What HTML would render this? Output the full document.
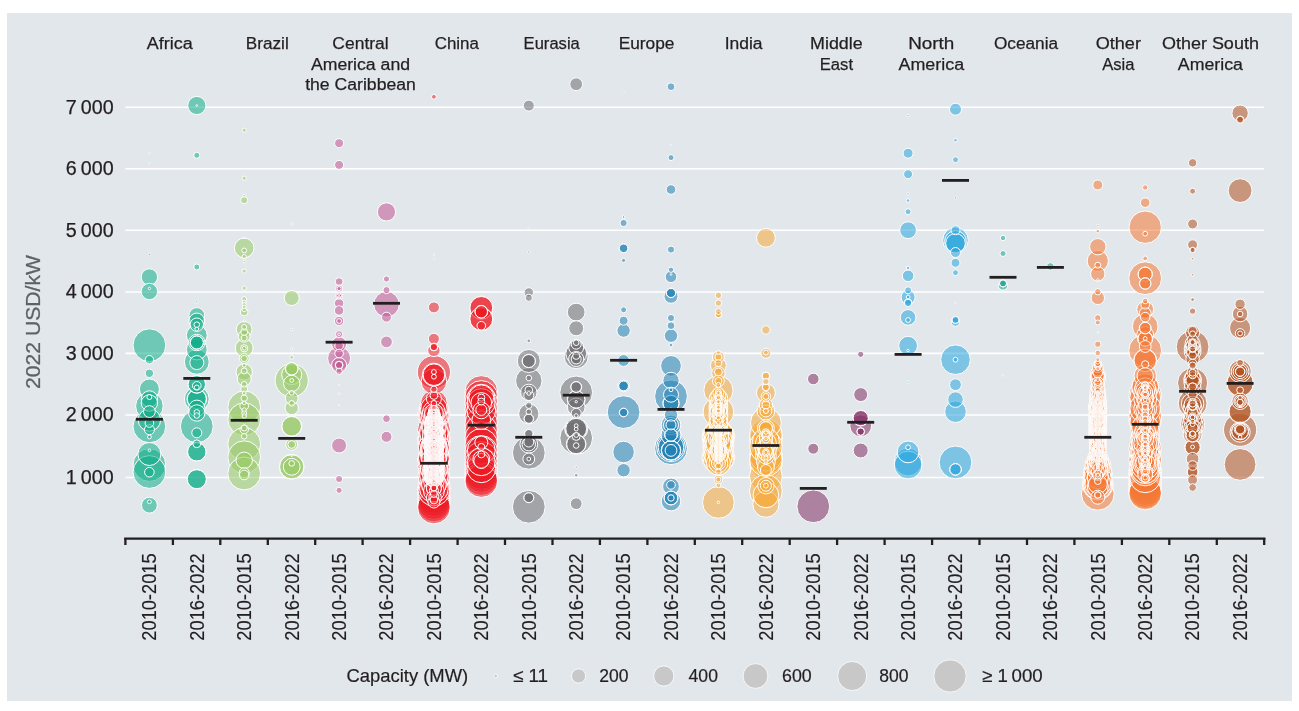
<!DOCTYPE html>
<html lang="en"><head><meta charset="utf-8"><title>Installed cost by region</title>
<style>html,body{margin:0;padding:0;background:#fff;overflow:hidden}body{width:1299px;height:711px;position:relative}</style></head>
<body>
<svg width="1299" height="711" viewBox="0 0 1299 711" style="display:block;position:absolute;left:0;top:0">
<rect x="0" y="0" width="1299" height="711" fill="#fff"/>
<rect x="7" y="13" width="1285" height="688" fill="#e2e7eb"/>
<g stroke="#fff" stroke-width="1.6">
<line x1="125.4" y1="107.2" x2="1264" y2="107.2"/>
<line x1="125.4" y1="168.8" x2="1264" y2="168.8"/>
<line x1="125.4" y1="230.3" x2="1264" y2="230.3"/>
<line x1="125.4" y1="292.0" x2="1264" y2="292.0"/>
<line x1="125.4" y1="353.4" x2="1264" y2="353.4"/>
<line x1="125.4" y1="415.0" x2="1264" y2="415.0"/>
<line x1="125.4" y1="477.5" x2="1264" y2="477.5"/>
</g>
<g fill="#10ad88" fill-opacity="0.55" stroke="#fff" stroke-width="1">
<circle cx="149.4" cy="345.2" r="16.4"/>
<circle cx="149.4" cy="426.3" r="16.4"/>
<circle cx="149.4" cy="465.0" r="16.4"/>
<circle cx="149.4" cy="472.0" r="16.4"/>
<circle cx="149.4" cy="406.0" r="13.8"/>
<circle cx="149.4" cy="454.0" r="11.5"/>
<circle cx="149.4" cy="420.0" r="11.2"/>
<circle cx="149.4" cy="389.0" r="10.0"/>
<circle cx="149.4" cy="277.0" r="8.2"/>
<circle cx="149.4" cy="291.5" r="8.2"/>
<circle cx="149.4" cy="399.0" r="8.2"/>
<circle cx="149.4" cy="403.0" r="8.2"/>
<circle cx="149.4" cy="505.2" r="7.9"/>
<circle cx="149.4" cy="411.6" r="5.9"/>
<circle cx="149.4" cy="429.7" r="5.0"/>
<circle cx="149.4" cy="472.2" r="4.8"/>
<circle cx="149.4" cy="423.0" r="4.3"/>
<circle cx="149.4" cy="359.7" r="4.2"/>
<circle cx="149.4" cy="373.3" r="4.2"/>
<circle cx="149.4" cy="397.0" r="2.5"/>
<circle cx="149.4" cy="437.0" r="1.9"/>
<circle cx="149.4" cy="501.8" r="1.9"/>
<circle cx="149.4" cy="450.3" r="1.3"/>
<circle cx="149.4" cy="254.4" r="1.2"/>
<circle cx="149.4" cy="288.5" r="1.2"/>
<circle cx="149.4" cy="153.2" r="0.8"/>
<circle cx="149.4" cy="163.1" r="0.8"/>
</g>
<g fill="#10ad88" fill-opacity="0.55" stroke="#fff" stroke-width="1">
<circle cx="196.8" cy="426.3" r="16.4"/>
<circle cx="196.8" cy="361.9" r="12.4"/>
<circle cx="196.8" cy="399.0" r="12.4"/>
<circle cx="196.8" cy="335.3" r="10.4"/>
<circle cx="196.8" cy="349.5" r="10.4"/>
<circle cx="196.8" cy="399.0" r="9.8"/>
<circle cx="196.8" cy="479.2" r="9.8"/>
<circle cx="196.8" cy="399.0" r="9.5"/>
<circle cx="196.8" cy="479.2" r="9.5"/>
<circle cx="196.8" cy="451.8" r="9.4"/>
<circle cx="196.8" cy="451.8" r="9.2"/>
<circle cx="196.8" cy="105.5" r="9.1"/>
<circle cx="196.8" cy="384.3" r="8.9"/>
<circle cx="196.8" cy="384.3" r="8.7"/>
<circle cx="196.8" cy="342.5" r="8.2"/>
<circle cx="196.8" cy="408.3" r="8.2"/>
<circle cx="196.8" cy="413.0" r="8.2"/>
<circle cx="196.8" cy="315.5" r="7.9"/>
<circle cx="196.8" cy="321.0" r="7.9"/>
<circle cx="196.8" cy="362.6" r="7.0"/>
<circle cx="196.8" cy="324.7" r="6.7"/>
<circle cx="196.8" cy="342.5" r="6.7"/>
<circle cx="196.8" cy="342.5" r="6.5"/>
<circle cx="196.8" cy="432.8" r="5.0"/>
<circle cx="196.8" cy="385.8" r="4.3"/>
<circle cx="196.8" cy="443.8" r="3.9"/>
<circle cx="196.8" cy="155.3" r="3.0"/>
<circle cx="196.8" cy="267.0" r="3.0"/>
<circle cx="196.8" cy="324.7" r="2.8"/>
<circle cx="196.8" cy="412.4" r="2.8"/>
<circle cx="196.8" cy="415.5" r="2.8"/>
<circle cx="196.8" cy="387.4" r="2.4"/>
<circle cx="196.8" cy="329.0" r="1.9"/>
<circle cx="196.8" cy="301.8" r="1.2"/>
<circle cx="196.8" cy="105.5" r="0.8"/>
</g>
<g fill="#97ca64" fill-opacity="0.55" stroke="#fff" stroke-width="1">
<circle cx="244.2" cy="407.3" r="16.4"/>
<circle cx="244.2" cy="419.3" r="16.4"/>
<circle cx="244.2" cy="444.1" r="16.4"/>
<circle cx="244.2" cy="457.2" r="16.4"/>
<circle cx="244.2" cy="473.5" r="16.4"/>
<circle cx="244.2" cy="247.9" r="9.8"/>
<circle cx="244.2" cy="348.0" r="8.9"/>
<circle cx="244.2" cy="372.0" r="8.2"/>
<circle cx="244.2" cy="460.3" r="8.2"/>
<circle cx="244.2" cy="329.4" r="7.9"/>
<circle cx="244.2" cy="378.9" r="7.0"/>
<circle cx="244.2" cy="336.3" r="5.9"/>
<circle cx="244.2" cy="358.5" r="5.0"/>
<circle cx="244.2" cy="472.7" r="5.0"/>
<circle cx="244.2" cy="475.0" r="4.8"/>
<circle cx="244.2" cy="406.0" r="4.3"/>
<circle cx="244.2" cy="429.4" r="4.3"/>
<circle cx="244.2" cy="312.0" r="3.9"/>
<circle cx="244.2" cy="200.2" r="3.6"/>
<circle cx="244.2" cy="348.3" r="3.6"/>
<circle cx="244.2" cy="332.0" r="3.5"/>
<circle cx="244.2" cy="389.0" r="3.5"/>
<circle cx="244.2" cy="358.5" r="3.2"/>
<circle cx="244.2" cy="398.2" r="3.2"/>
<circle cx="244.2" cy="338.0" r="3.0"/>
<circle cx="244.2" cy="371.0" r="3.0"/>
<circle cx="244.2" cy="428.0" r="3.0"/>
<circle cx="244.2" cy="384.3" r="2.8"/>
<circle cx="244.2" cy="436.3" r="2.8"/>
<circle cx="244.2" cy="327.0" r="2.5"/>
<circle cx="244.2" cy="413.0" r="2.5"/>
<circle cx="244.2" cy="250.4" r="2.4"/>
<circle cx="244.2" cy="299.0" r="2.4"/>
<circle cx="244.2" cy="309.5" r="2.2"/>
<circle cx="244.2" cy="410.0" r="2.2"/>
<circle cx="244.2" cy="416.0" r="2.2"/>
<circle cx="244.2" cy="130.2" r="2.1"/>
<circle cx="244.2" cy="178.2" r="2.1"/>
<circle cx="244.2" cy="256.6" r="2.1"/>
<circle cx="244.2" cy="271.1" r="2.1"/>
<circle cx="244.2" cy="288.1" r="2.1"/>
<circle cx="244.2" cy="302.0" r="1.9"/>
<circle cx="244.2" cy="304.5" r="1.9"/>
<circle cx="244.2" cy="307.0" r="1.9"/>
<circle cx="244.2" cy="348.3" r="1.9"/>
<circle cx="244.2" cy="365.3" r="1.9"/>
<circle cx="244.2" cy="393.0" r="1.9"/>
<circle cx="244.2" cy="403.0" r="1.9"/>
<circle cx="244.2" cy="195.6" r="1.3"/>
<circle cx="244.2" cy="261.5" r="1.3"/>
<circle cx="244.2" cy="321.0" r="1.2"/>
<circle cx="244.2" cy="237.7" r="0.8"/>
</g>
<g fill="#97ca64" fill-opacity="0.55" stroke="#fff" stroke-width="1">
<circle cx="291.7" cy="380.4" r="16.6"/>
<circle cx="291.7" cy="466.8" r="12.4"/>
<circle cx="291.7" cy="466.8" r="12.1"/>
<circle cx="291.7" cy="374.6" r="10.0"/>
<circle cx="291.7" cy="426.3" r="10.0"/>
<circle cx="291.7" cy="426.3" r="9.8"/>
<circle cx="291.7" cy="466.8" r="8.4"/>
<circle cx="291.7" cy="383.5" r="8.2"/>
<circle cx="291.7" cy="298.0" r="7.5"/>
<circle cx="291.7" cy="408.0" r="6.7"/>
<circle cx="291.7" cy="368.8" r="6.4"/>
<circle cx="291.7" cy="398.2" r="6.4"/>
<circle cx="291.7" cy="368.8" r="6.2"/>
<circle cx="291.7" cy="444.5" r="5.9"/>
<circle cx="291.7" cy="444.5" r="3.9"/>
<circle cx="291.7" cy="403.3" r="2.8"/>
<circle cx="291.7" cy="463.4" r="2.8"/>
<circle cx="291.7" cy="392.8" r="2.4"/>
<circle cx="291.7" cy="357.4" r="1.9"/>
<circle cx="291.7" cy="380.4" r="1.9"/>
<circle cx="291.7" cy="224.0" r="1.2"/>
<circle cx="291.7" cy="329.4" r="1.2"/>
<circle cx="291.7" cy="348.9" r="1.2"/>
<circle cx="291.7" cy="455.7" r="0.8"/>
</g>
<g fill="#c35694" fill-opacity="0.55" stroke="#fff" stroke-width="1">
<circle cx="339.1" cy="358.2" r="11.5"/>
<circle cx="339.1" cy="344.2" r="7.5"/>
<circle cx="339.1" cy="365.1" r="7.5"/>
<circle cx="339.1" cy="445.5" r="7.5"/>
<circle cx="339.1" cy="303.3" r="4.7"/>
<circle cx="339.1" cy="310.5" r="4.7"/>
<circle cx="339.1" cy="321.0" r="4.7"/>
<circle cx="339.1" cy="143.2" r="4.5"/>
<circle cx="339.1" cy="164.9" r="4.5"/>
<circle cx="339.1" cy="345.8" r="4.3"/>
<circle cx="339.1" cy="353.5" r="4.3"/>
<circle cx="339.1" cy="281.6" r="3.9"/>
<circle cx="339.1" cy="365.1" r="3.9"/>
<circle cx="339.1" cy="365.1" r="3.7"/>
<circle cx="339.1" cy="288.6" r="3.6"/>
<circle cx="339.1" cy="295.5" r="3.6"/>
<circle cx="339.1" cy="334.2" r="3.6"/>
<circle cx="339.1" cy="479.0" r="3.6"/>
<circle cx="339.1" cy="371.3" r="3.2"/>
<circle cx="339.1" cy="490.3" r="3.1"/>
<circle cx="339.1" cy="295.5" r="2.4"/>
<circle cx="339.1" cy="321.0" r="2.4"/>
<circle cx="339.1" cy="288.6" r="2.1"/>
<circle cx="339.1" cy="334.2" r="1.3"/>
<circle cx="339.1" cy="294.0" r="1.2"/>
<circle cx="339.1" cy="297.0" r="1.2"/>
<circle cx="339.1" cy="384.8" r="0.8"/>
<circle cx="339.1" cy="393.7" r="0.8"/>
<circle cx="339.1" cy="405.1" r="0.8"/>
</g>
<g fill="#c35694" fill-opacity="0.55" stroke="#fff" stroke-width="1">
<circle cx="386.5" cy="304.3" r="12.8"/>
<circle cx="386.5" cy="211.9" r="9.1"/>
<circle cx="386.5" cy="341.9" r="5.9"/>
<circle cx="386.5" cy="436.8" r="5.5"/>
<circle cx="386.5" cy="317.2" r="5.0"/>
<circle cx="386.5" cy="418.7" r="3.9"/>
<circle cx="386.5" cy="290.1" r="3.6"/>
<circle cx="386.5" cy="279.0" r="3.1"/>
</g>
<g fill="#ed1c24" fill-opacity="0.55" stroke="#fff" stroke-width="1">
<circle cx="433.9" cy="372.1" r="16.6"/>
<circle cx="433.9" cy="441.2" r="16.4"/>
<circle cx="433.9" cy="438.7" r="16.4"/>
<circle cx="433.9" cy="487.6" r="16.4"/>
<circle cx="433.9" cy="430.1" r="16.4"/>
<circle cx="433.9" cy="487.8" r="16.4"/>
<circle cx="433.9" cy="438.4" r="16.4"/>
<circle cx="433.9" cy="437.9" r="16.4"/>
<circle cx="433.9" cy="460.4" r="16.4"/>
<circle cx="433.9" cy="491.4" r="16.4"/>
<circle cx="433.9" cy="494.0" r="16.4"/>
<circle cx="433.9" cy="497.0" r="16.4"/>
<circle cx="433.9" cy="500.0" r="16.4"/>
<circle cx="433.9" cy="503.0" r="16.4"/>
<circle cx="433.9" cy="505.5" r="16.4"/>
<circle cx="433.9" cy="507.5" r="16.4"/>
<circle cx="433.9" cy="439.3" r="15.9"/>
<circle cx="433.9" cy="459.2" r="15.9"/>
<circle cx="433.9" cy="443.4" r="15.9"/>
<circle cx="433.9" cy="413.8" r="15.9"/>
<circle cx="433.9" cy="466.6" r="15.9"/>
<circle cx="433.9" cy="413.2" r="15.9"/>
<circle cx="433.9" cy="459.6" r="15.9"/>
<circle cx="433.9" cy="490.2" r="15.9"/>
<circle cx="433.9" cy="475.2" r="15.9"/>
<circle cx="433.9" cy="446.9" r="15.9"/>
<circle cx="433.9" cy="414.1" r="15.4"/>
<circle cx="433.9" cy="413.0" r="15.4"/>
<circle cx="433.9" cy="437.9" r="15.4"/>
<circle cx="433.9" cy="458.5" r="15.4"/>
<circle cx="433.9" cy="447.8" r="15.4"/>
<circle cx="433.9" cy="415.2" r="15.4"/>
<circle cx="433.9" cy="414.8" r="15.4"/>
<circle cx="433.9" cy="478.1" r="15.4"/>
<circle cx="433.9" cy="435.2" r="14.4"/>
<circle cx="433.9" cy="411.9" r="14.4"/>
<circle cx="433.9" cy="432.3" r="14.4"/>
<circle cx="433.9" cy="472.5" r="14.4"/>
<circle cx="433.9" cy="488.4" r="14.4"/>
<circle cx="433.9" cy="415.0" r="14.4"/>
<circle cx="433.9" cy="408.0" r="14.4"/>
<circle cx="433.9" cy="475.7" r="14.4"/>
<circle cx="433.9" cy="403.3" r="13.4"/>
<circle cx="433.9" cy="455.1" r="13.4"/>
<circle cx="433.9" cy="409.0" r="13.4"/>
<circle cx="433.9" cy="448.2" r="13.4"/>
<circle cx="433.9" cy="451.5" r="13.4"/>
<circle cx="433.9" cy="448.2" r="13.4"/>
<circle cx="433.9" cy="468.9" r="13.4"/>
<circle cx="433.9" cy="381.6" r="12.8"/>
<circle cx="433.9" cy="484.4" r="12.4"/>
<circle cx="433.9" cy="416.7" r="12.4"/>
<circle cx="433.9" cy="455.4" r="12.4"/>
<circle cx="433.9" cy="449.5" r="12.4"/>
<circle cx="433.9" cy="451.4" r="12.4"/>
<circle cx="433.9" cy="459.5" r="12.4"/>
<circle cx="433.9" cy="447.7" r="12.4"/>
<circle cx="433.9" cy="427.1" r="12.4"/>
<circle cx="433.9" cy="484.4" r="12.4"/>
<circle cx="433.9" cy="374.7" r="11.5"/>
<circle cx="433.9" cy="443.1" r="11.4"/>
<circle cx="433.9" cy="412.2" r="11.4"/>
<circle cx="433.9" cy="438.4" r="11.4"/>
<circle cx="433.9" cy="474.7" r="11.4"/>
<circle cx="433.9" cy="427.5" r="11.4"/>
<circle cx="433.9" cy="437.9" r="11.4"/>
<circle cx="433.9" cy="435.7" r="11.4"/>
<circle cx="433.9" cy="470.1" r="11.4"/>
<circle cx="433.9" cy="374.7" r="10.8"/>
<circle cx="433.9" cy="441.7" r="10.4"/>
<circle cx="433.9" cy="480.6" r="10.4"/>
<circle cx="433.9" cy="420.5" r="10.4"/>
<circle cx="433.9" cy="471.0" r="10.4"/>
<circle cx="433.9" cy="466.5" r="10.4"/>
<circle cx="433.9" cy="491.1" r="10.4"/>
<circle cx="433.9" cy="447.5" r="9.9"/>
<circle cx="433.9" cy="468.9" r="9.9"/>
<circle cx="433.9" cy="461.9" r="9.9"/>
<circle cx="433.9" cy="466.2" r="9.9"/>
<circle cx="433.9" cy="441.3" r="9.9"/>
<circle cx="433.9" cy="447.4" r="9.8"/>
<circle cx="433.9" cy="446.0" r="9.7"/>
<circle cx="433.9" cy="447.4" r="9.7"/>
<circle cx="433.9" cy="468.9" r="9.7"/>
<circle cx="433.9" cy="477.0" r="9.7"/>
<circle cx="433.9" cy="469.4" r="9.7"/>
<circle cx="433.9" cy="472.8" r="9.7"/>
<circle cx="433.9" cy="462.5" r="9.6"/>
<circle cx="433.9" cy="432.3" r="9.6"/>
<circle cx="433.9" cy="456.9" r="9.6"/>
<circle cx="433.9" cy="477.4" r="9.5"/>
<circle cx="433.9" cy="469.0" r="9.5"/>
<circle cx="433.9" cy="440.2" r="9.5"/>
<circle cx="433.9" cy="439.7" r="9.5"/>
<circle cx="433.9" cy="453.4" r="9.4"/>
<circle cx="433.9" cy="414.9" r="9.4"/>
<circle cx="433.9" cy="469.3" r="9.4"/>
<circle cx="433.9" cy="413.1" r="9.4"/>
<circle cx="433.9" cy="448.4" r="9.4"/>
<circle cx="433.9" cy="471.7" r="9.4"/>
<circle cx="433.9" cy="462.1" r="9.4"/>
<circle cx="433.9" cy="424.0" r="9.4"/>
<circle cx="433.9" cy="477.0" r="9.4"/>
<circle cx="433.9" cy="432.3" r="9.4"/>
<circle cx="433.9" cy="452.2" r="9.3"/>
<circle cx="433.9" cy="475.2" r="9.3"/>
<circle cx="433.9" cy="441.1" r="9.2"/>
<circle cx="433.9" cy="467.9" r="9.2"/>
<circle cx="433.9" cy="446.0" r="9.2"/>
<circle cx="433.9" cy="445.9" r="9.2"/>
<circle cx="433.9" cy="431.3" r="9.2"/>
<circle cx="433.9" cy="455.2" r="9.2"/>
<circle cx="433.9" cy="421.8" r="9.1"/>
<circle cx="433.9" cy="454.9" r="9.1"/>
<circle cx="433.9" cy="460.6" r="9.1"/>
<circle cx="433.9" cy="424.2" r="9.1"/>
<circle cx="433.9" cy="471.9" r="9.1"/>
<circle cx="433.9" cy="430.1" r="9.0"/>
<circle cx="433.9" cy="450.3" r="9.0"/>
<circle cx="433.9" cy="464.7" r="9.0"/>
<circle cx="433.9" cy="425.3" r="9.0"/>
<circle cx="433.9" cy="456.0" r="9.0"/>
<circle cx="433.9" cy="470.6" r="8.9"/>
<circle cx="433.9" cy="427.5" r="8.9"/>
<circle cx="433.9" cy="446.8" r="8.9"/>
<circle cx="433.9" cy="448.7" r="8.9"/>
<circle cx="433.9" cy="439.8" r="8.9"/>
<circle cx="433.9" cy="447.8" r="8.9"/>
<circle cx="433.9" cy="428.0" r="8.8"/>
<circle cx="433.9" cy="438.3" r="8.7"/>
<circle cx="433.9" cy="477.8" r="8.7"/>
<circle cx="433.9" cy="443.8" r="8.7"/>
<circle cx="433.9" cy="422.2" r="8.7"/>
<circle cx="433.9" cy="432.0" r="8.7"/>
<circle cx="433.9" cy="474.6" r="8.6"/>
<circle cx="433.9" cy="476.1" r="8.6"/>
<circle cx="433.9" cy="478.0" r="8.6"/>
<circle cx="433.9" cy="433.8" r="8.6"/>
<circle cx="433.9" cy="463.2" r="8.6"/>
<circle cx="433.9" cy="432.7" r="8.6"/>
<circle cx="433.9" cy="450.2" r="8.6"/>
<circle cx="433.9" cy="477.8" r="8.5"/>
<circle cx="433.9" cy="465.4" r="8.5"/>
<circle cx="433.9" cy="452.1" r="8.4"/>
<circle cx="433.9" cy="421.9" r="8.4"/>
<circle cx="433.9" cy="472.2" r="8.4"/>
<circle cx="433.9" cy="459.2" r="8.4"/>
<circle cx="433.9" cy="421.6" r="8.4"/>
<circle cx="433.9" cy="444.4" r="8.4"/>
<circle cx="433.9" cy="455.5" r="8.4"/>
<circle cx="433.9" cy="476.8" r="8.4"/>
<circle cx="433.9" cy="433.5" r="8.4"/>
<circle cx="433.9" cy="451.9" r="8.4"/>
<circle cx="433.9" cy="447.0" r="8.4"/>
<circle cx="433.9" cy="431.7" r="8.4"/>
<circle cx="433.9" cy="471.2" r="8.4"/>
<circle cx="433.9" cy="437.5" r="8.4"/>
<circle cx="433.9" cy="445.1" r="8.4"/>
<circle cx="433.9" cy="447.6" r="8.4"/>
<circle cx="433.9" cy="468.0" r="8.3"/>
<circle cx="433.9" cy="444.4" r="8.3"/>
<circle cx="433.9" cy="466.2" r="8.3"/>
<circle cx="433.9" cy="431.1" r="8.3"/>
<circle cx="433.9" cy="440.4" r="8.3"/>
<circle cx="433.9" cy="429.8" r="8.2"/>
<circle cx="433.9" cy="449.1" r="8.2"/>
<circle cx="433.9" cy="474.7" r="8.2"/>
<circle cx="433.9" cy="444.2" r="8.2"/>
<circle cx="433.9" cy="443.3" r="8.1"/>
<circle cx="433.9" cy="465.7" r="8.1"/>
<circle cx="433.9" cy="420.4" r="8.1"/>
<circle cx="433.9" cy="445.7" r="8.1"/>
<circle cx="433.9" cy="444.5" r="8.1"/>
<circle cx="433.9" cy="428.9" r="8.1"/>
<circle cx="433.9" cy="449.8" r="8.1"/>
<circle cx="433.9" cy="433.7" r="8.1"/>
<circle cx="433.9" cy="425.4" r="8.0"/>
<circle cx="433.9" cy="442.5" r="8.0"/>
<circle cx="433.9" cy="441.6" r="8.0"/>
<circle cx="433.9" cy="421.0" r="8.0"/>
<circle cx="433.9" cy="435.0" r="8.0"/>
<circle cx="433.9" cy="438.6" r="7.9"/>
<circle cx="433.9" cy="476.5" r="7.9"/>
<circle cx="433.9" cy="430.5" r="7.9"/>
<circle cx="433.9" cy="420.5" r="7.9"/>
<circle cx="433.9" cy="463.8" r="7.9"/>
<circle cx="433.9" cy="448.9" r="7.8"/>
<circle cx="433.9" cy="429.4" r="7.8"/>
<circle cx="433.9" cy="472.7" r="7.8"/>
<circle cx="433.9" cy="434.3" r="7.8"/>
<circle cx="433.9" cy="440.2" r="7.7"/>
<circle cx="433.9" cy="466.0" r="7.6"/>
<circle cx="433.9" cy="433.6" r="7.6"/>
<circle cx="433.9" cy="470.4" r="7.6"/>
<circle cx="433.9" cy="468.5" r="7.6"/>
<circle cx="433.9" cy="440.9" r="7.5"/>
<circle cx="433.9" cy="477.6" r="7.5"/>
<circle cx="433.9" cy="446.3" r="7.5"/>
<circle cx="433.9" cy="419.1" r="7.5"/>
<circle cx="433.9" cy="444.0" r="7.5"/>
<circle cx="433.9" cy="470.4" r="7.5"/>
<circle cx="433.9" cy="398.6" r="7.5"/>
<circle cx="433.9" cy="436.6" r="7.5"/>
<circle cx="433.9" cy="482.5" r="7.5"/>
<circle cx="433.9" cy="467.3" r="7.5"/>
<circle cx="433.9" cy="420.2" r="7.5"/>
<circle cx="433.9" cy="453.1" r="7.5"/>
<circle cx="433.9" cy="488.3" r="7.5"/>
<circle cx="433.9" cy="466.2" r="7.5"/>
<circle cx="433.9" cy="445.6" r="7.5"/>
<circle cx="433.9" cy="488.2" r="7.5"/>
<circle cx="433.9" cy="448.3" r="7.5"/>
<circle cx="433.9" cy="463.2" r="7.5"/>
<circle cx="433.9" cy="498.0" r="7.5"/>
<circle cx="433.9" cy="446.5" r="7.4"/>
<circle cx="433.9" cy="454.1" r="7.4"/>
<circle cx="433.9" cy="464.7" r="7.4"/>
<circle cx="433.9" cy="462.3" r="7.4"/>
<circle cx="433.9" cy="436.9" r="7.4"/>
<circle cx="433.9" cy="468.2" r="7.3"/>
<circle cx="433.9" cy="459.9" r="7.3"/>
<circle cx="433.9" cy="472.2" r="7.3"/>
<circle cx="433.9" cy="459.4" r="7.2"/>
<circle cx="433.9" cy="466.8" r="7.2"/>
<circle cx="433.9" cy="475.6" r="7.1"/>
<circle cx="433.9" cy="443.2" r="7.1"/>
<circle cx="433.9" cy="455.1" r="7.1"/>
<circle cx="433.9" cy="457.8" r="7.1"/>
<circle cx="433.9" cy="431.1" r="7.1"/>
<circle cx="433.9" cy="449.4" r="7.1"/>
<circle cx="433.9" cy="475.4" r="7.1"/>
<circle cx="433.9" cy="434.9" r="7.1"/>
<circle cx="433.9" cy="440.7" r="7.0"/>
<circle cx="433.9" cy="448.9" r="7.0"/>
<circle cx="433.9" cy="440.4" r="7.0"/>
<circle cx="433.9" cy="467.0" r="7.0"/>
<circle cx="433.9" cy="474.7" r="7.0"/>
<circle cx="433.9" cy="448.3" r="7.0"/>
<circle cx="433.9" cy="475.2" r="7.0"/>
<circle cx="433.9" cy="445.2" r="6.9"/>
<circle cx="433.9" cy="419.8" r="6.9"/>
<circle cx="433.9" cy="428.9" r="6.8"/>
<circle cx="433.9" cy="460.9" r="6.8"/>
<circle cx="433.9" cy="472.7" r="6.8"/>
<circle cx="433.9" cy="437.8" r="6.8"/>
<circle cx="433.9" cy="453.6" r="6.8"/>
<circle cx="433.9" cy="427.6" r="6.8"/>
<circle cx="433.9" cy="440.6" r="6.8"/>
<circle cx="433.9" cy="446.2" r="6.7"/>
<circle cx="433.9" cy="479.9" r="6.7"/>
<circle cx="433.9" cy="471.0" r="6.7"/>
<circle cx="433.9" cy="466.9" r="6.7"/>
<circle cx="433.9" cy="433.6" r="6.7"/>
<circle cx="433.9" cy="436.9" r="6.7"/>
<circle cx="433.9" cy="423.8" r="6.7"/>
<circle cx="433.9" cy="452.7" r="6.6"/>
<circle cx="433.9" cy="439.0" r="6.6"/>
<circle cx="433.9" cy="425.3" r="6.6"/>
<circle cx="433.9" cy="467.5" r="6.6"/>
<circle cx="433.9" cy="463.0" r="6.6"/>
<circle cx="433.9" cy="475.3" r="6.6"/>
<circle cx="433.9" cy="439.2" r="6.5"/>
<circle cx="433.9" cy="416.8" r="6.5"/>
<circle cx="433.9" cy="456.5" r="6.5"/>
<circle cx="433.9" cy="431.9" r="6.5"/>
<circle cx="433.9" cy="470.0" r="6.5"/>
<circle cx="433.9" cy="465.3" r="6.5"/>
<circle cx="433.9" cy="446.4" r="6.5"/>
<circle cx="433.9" cy="441.4" r="6.5"/>
<circle cx="433.9" cy="416.7" r="6.5"/>
<circle cx="433.9" cy="481.4" r="6.5"/>
<circle cx="433.9" cy="475.7" r="6.5"/>
<circle cx="433.9" cy="415.3" r="6.5"/>
<circle cx="433.9" cy="446.9" r="6.4"/>
<circle cx="433.9" cy="480.5" r="6.4"/>
<circle cx="433.9" cy="445.1" r="6.3"/>
<circle cx="433.9" cy="474.7" r="6.3"/>
<circle cx="433.9" cy="421.2" r="6.2"/>
<circle cx="433.9" cy="417.5" r="6.2"/>
<circle cx="433.9" cy="441.8" r="6.2"/>
<circle cx="433.9" cy="445.7" r="6.2"/>
<circle cx="433.9" cy="350.4" r="6.2"/>
<circle cx="433.9" cy="416.0" r="6.1"/>
<circle cx="433.9" cy="478.6" r="6.1"/>
<circle cx="433.9" cy="445.4" r="6.1"/>
<circle cx="433.9" cy="471.6" r="6.1"/>
<circle cx="433.9" cy="429.1" r="6.1"/>
<circle cx="433.9" cy="448.7" r="6.1"/>
<circle cx="433.9" cy="418.7" r="6.1"/>
<circle cx="433.9" cy="456.3" r="6.1"/>
<circle cx="433.9" cy="460.1" r="6.1"/>
<circle cx="433.9" cy="445.0" r="6.1"/>
<circle cx="433.9" cy="421.4" r="6.0"/>
<circle cx="433.9" cy="456.1" r="6.0"/>
<circle cx="433.9" cy="428.4" r="6.0"/>
<circle cx="433.9" cy="458.0" r="6.0"/>
<circle cx="433.9" cy="479.4" r="6.0"/>
<circle cx="433.9" cy="422.2" r="6.0"/>
<circle cx="433.9" cy="443.6" r="6.0"/>
<circle cx="433.9" cy="502.0" r="6.0"/>
<circle cx="433.9" cy="438.7" r="5.9"/>
<circle cx="433.9" cy="469.7" r="5.9"/>
<circle cx="433.9" cy="449.6" r="5.9"/>
<circle cx="433.9" cy="453.9" r="5.9"/>
<circle cx="433.9" cy="455.1" r="5.9"/>
<circle cx="433.9" cy="461.5" r="5.8"/>
<circle cx="433.9" cy="468.8" r="5.8"/>
<circle cx="433.9" cy="417.1" r="5.8"/>
<circle cx="433.9" cy="426.3" r="5.8"/>
<circle cx="433.9" cy="448.3" r="5.7"/>
<circle cx="433.9" cy="482.2" r="5.7"/>
<circle cx="433.9" cy="446.7" r="5.7"/>
<circle cx="433.9" cy="428.2" r="5.7"/>
<circle cx="433.9" cy="307.4" r="5.5"/>
<circle cx="433.9" cy="338.8" r="5.5"/>
<circle cx="433.9" cy="416.8" r="5.5"/>
<circle cx="433.9" cy="414.2" r="5.5"/>
<circle cx="433.9" cy="449.0" r="5.5"/>
<circle cx="433.9" cy="418.8" r="5.5"/>
<circle cx="433.9" cy="479.8" r="5.5"/>
<circle cx="433.9" cy="431.6" r="5.5"/>
<circle cx="433.9" cy="425.0" r="5.5"/>
<circle cx="433.9" cy="415.7" r="5.5"/>
<circle cx="433.9" cy="457.8" r="5.5"/>
<circle cx="433.9" cy="411.1" r="5.5"/>
<circle cx="433.9" cy="415.6" r="5.5"/>
<circle cx="433.9" cy="449.7" r="5.5"/>
<circle cx="433.9" cy="417.9" r="5.5"/>
<circle cx="433.9" cy="482.2" r="5.5"/>
<circle cx="433.9" cy="430.0" r="5.4"/>
<circle cx="433.9" cy="450.6" r="5.4"/>
<circle cx="433.9" cy="438.1" r="5.4"/>
<circle cx="433.9" cy="461.9" r="5.4"/>
<circle cx="433.9" cy="424.3" r="5.4"/>
<circle cx="433.9" cy="444.5" r="5.4"/>
<circle cx="433.9" cy="450.0" r="5.4"/>
<circle cx="433.9" cy="425.8" r="5.3"/>
<circle cx="433.9" cy="429.7" r="5.3"/>
<circle cx="433.9" cy="438.0" r="5.3"/>
<circle cx="433.9" cy="457.5" r="5.2"/>
<circle cx="433.9" cy="414.0" r="5.2"/>
<circle cx="433.9" cy="447.9" r="5.2"/>
<circle cx="433.9" cy="459.3" r="5.2"/>
<circle cx="433.9" cy="467.5" r="5.2"/>
<circle cx="433.9" cy="415.0" r="5.2"/>
<circle cx="433.9" cy="414.1" r="5.2"/>
<circle cx="433.9" cy="440.1" r="5.1"/>
<circle cx="433.9" cy="456.0" r="5.1"/>
<circle cx="433.9" cy="443.2" r="5.1"/>
<circle cx="433.9" cy="422.6" r="5.1"/>
<circle cx="433.9" cy="457.6" r="5.1"/>
<circle cx="433.9" cy="425.2" r="5.1"/>
<circle cx="433.9" cy="420.6" r="5.1"/>
<circle cx="433.9" cy="470.0" r="5.0"/>
<circle cx="433.9" cy="420.9" r="5.0"/>
<circle cx="433.9" cy="458.0" r="5.0"/>
<circle cx="433.9" cy="425.3" r="5.0"/>
<circle cx="433.9" cy="415.4" r="5.0"/>
<circle cx="433.9" cy="497.0" r="5.0"/>
<circle cx="433.9" cy="469.1" r="4.9"/>
<circle cx="433.9" cy="420.6" r="4.9"/>
<circle cx="433.9" cy="457.4" r="4.9"/>
<circle cx="433.9" cy="434.3" r="4.9"/>
<circle cx="433.9" cy="475.6" r="4.8"/>
<circle cx="433.9" cy="473.7" r="4.8"/>
<circle cx="433.9" cy="458.9" r="4.8"/>
<circle cx="433.9" cy="465.6" r="4.8"/>
<circle cx="433.9" cy="434.6" r="4.8"/>
<circle cx="433.9" cy="413.5" r="4.8"/>
<circle cx="433.9" cy="441.0" r="4.8"/>
<circle cx="433.9" cy="437.7" r="4.8"/>
<circle cx="433.9" cy="440.1" r="4.8"/>
<circle cx="433.9" cy="443.3" r="4.8"/>
<circle cx="433.9" cy="428.1" r="4.7"/>
<circle cx="433.9" cy="441.6" r="4.7"/>
<circle cx="433.9" cy="481.1" r="4.7"/>
<circle cx="433.9" cy="439.0" r="4.7"/>
<circle cx="433.9" cy="436.8" r="4.7"/>
<circle cx="433.9" cy="452.6" r="4.7"/>
<circle cx="433.9" cy="462.7" r="4.7"/>
<circle cx="433.9" cy="413.0" r="4.6"/>
<circle cx="433.9" cy="462.1" r="4.6"/>
<circle cx="433.9" cy="415.8" r="4.5"/>
<circle cx="433.9" cy="415.6" r="4.5"/>
<circle cx="433.9" cy="422.3" r="4.5"/>
<circle cx="433.9" cy="434.4" r="4.5"/>
<circle cx="433.9" cy="437.3" r="4.5"/>
<circle cx="433.9" cy="473.3" r="4.5"/>
<circle cx="433.9" cy="457.2" r="4.5"/>
<circle cx="433.9" cy="457.9" r="4.5"/>
<circle cx="433.9" cy="462.4" r="4.5"/>
<circle cx="433.9" cy="409.9" r="4.5"/>
<circle cx="433.9" cy="414.8" r="4.5"/>
<circle cx="433.9" cy="490.7" r="4.5"/>
<circle cx="433.9" cy="479.3" r="4.5"/>
<circle cx="433.9" cy="420.7" r="4.5"/>
<circle cx="433.9" cy="482.2" r="4.4"/>
<circle cx="433.9" cy="482.6" r="4.4"/>
<circle cx="433.9" cy="437.1" r="4.4"/>
<circle cx="433.9" cy="415.5" r="4.4"/>
<circle cx="433.9" cy="414.7" r="4.4"/>
<circle cx="433.9" cy="418.2" r="4.4"/>
<circle cx="433.9" cy="437.2" r="4.4"/>
<circle cx="433.9" cy="446.6" r="4.4"/>
<circle cx="433.9" cy="466.0" r="4.4"/>
<circle cx="433.9" cy="411.8" r="4.4"/>
<circle cx="433.9" cy="413.8" r="4.3"/>
<circle cx="433.9" cy="429.2" r="4.3"/>
<circle cx="433.9" cy="479.1" r="4.3"/>
<circle cx="433.9" cy="480.4" r="4.3"/>
<circle cx="433.9" cy="414.8" r="4.3"/>
<circle cx="433.9" cy="451.0" r="4.3"/>
<circle cx="433.9" cy="418.0" r="4.3"/>
<circle cx="433.9" cy="439.3" r="4.3"/>
<circle cx="433.9" cy="462.3" r="4.3"/>
<circle cx="433.9" cy="420.6" r="4.3"/>
<circle cx="433.9" cy="444.7" r="4.2"/>
<circle cx="433.9" cy="450.5" r="4.2"/>
<circle cx="433.9" cy="415.1" r="4.2"/>
<circle cx="433.9" cy="448.2" r="4.2"/>
<circle cx="433.9" cy="416.4" r="4.2"/>
<circle cx="433.9" cy="466.3" r="4.2"/>
<circle cx="433.9" cy="417.2" r="4.2"/>
<circle cx="433.9" cy="413.1" r="4.2"/>
<circle cx="433.9" cy="451.8" r="4.2"/>
<circle cx="433.9" cy="414.4" r="4.2"/>
<circle cx="433.9" cy="426.3" r="4.2"/>
<circle cx="433.9" cy="440.8" r="4.1"/>
<circle cx="433.9" cy="439.4" r="4.1"/>
<circle cx="433.9" cy="414.6" r="4.1"/>
<circle cx="433.9" cy="412.5" r="4.1"/>
<circle cx="433.9" cy="427.0" r="4.1"/>
<circle cx="433.9" cy="411.3" r="4.0"/>
<circle cx="433.9" cy="476.6" r="4.0"/>
<circle cx="433.9" cy="446.6" r="4.0"/>
<circle cx="433.9" cy="415.9" r="4.0"/>
<circle cx="433.9" cy="477.5" r="4.0"/>
<circle cx="433.9" cy="440.9" r="4.0"/>
<circle cx="433.9" cy="472.5" r="4.0"/>
<circle cx="433.9" cy="419.1" r="4.0"/>
<circle cx="433.9" cy="456.5" r="4.0"/>
<circle cx="433.9" cy="432.2" r="4.0"/>
<circle cx="433.9" cy="456.8" r="4.0"/>
<circle cx="433.9" cy="425.4" r="4.0"/>
<circle cx="433.9" cy="478.0" r="3.9"/>
<circle cx="433.9" cy="480.9" r="3.9"/>
<circle cx="433.9" cy="439.6" r="3.9"/>
<circle cx="433.9" cy="412.0" r="3.9"/>
<circle cx="433.9" cy="459.4" r="3.9"/>
<circle cx="433.9" cy="458.9" r="3.9"/>
<circle cx="433.9" cy="419.7" r="3.9"/>
<circle cx="433.9" cy="347.0" r="3.9"/>
<circle cx="433.9" cy="395.5" r="3.9"/>
<circle cx="433.9" cy="500.0" r="3.9"/>
<circle cx="433.9" cy="468.0" r="3.8"/>
<circle cx="433.9" cy="416.8" r="3.8"/>
<circle cx="433.9" cy="464.8" r="3.8"/>
<circle cx="433.9" cy="443.9" r="3.8"/>
<circle cx="433.9" cy="430.3" r="3.8"/>
<circle cx="433.9" cy="464.3" r="3.8"/>
<circle cx="433.9" cy="437.4" r="3.8"/>
<circle cx="433.9" cy="347.0" r="3.7"/>
<circle cx="433.9" cy="433.2" r="3.7"/>
<circle cx="433.9" cy="447.6" r="3.7"/>
<circle cx="433.9" cy="429.1" r="3.7"/>
<circle cx="433.9" cy="448.0" r="3.7"/>
<circle cx="433.9" cy="449.3" r="3.7"/>
<circle cx="433.9" cy="412.2" r="3.6"/>
<circle cx="433.9" cy="424.4" r="3.6"/>
<circle cx="433.9" cy="475.2" r="3.6"/>
<circle cx="433.9" cy="471.9" r="3.6"/>
<circle cx="433.9" cy="474.1" r="3.6"/>
<circle cx="433.9" cy="481.9" r="3.6"/>
<circle cx="433.9" cy="474.6" r="3.6"/>
<circle cx="433.9" cy="465.5" r="3.6"/>
<circle cx="433.9" cy="426.5" r="3.6"/>
<circle cx="433.9" cy="412.7" r="3.5"/>
<circle cx="433.9" cy="459.1" r="3.5"/>
<circle cx="433.9" cy="454.8" r="3.5"/>
<circle cx="433.9" cy="462.9" r="3.5"/>
<circle cx="433.9" cy="415.7" r="3.5"/>
<circle cx="433.9" cy="420.8" r="3.5"/>
<circle cx="433.9" cy="487.4" r="3.5"/>
<circle cx="433.9" cy="440.8" r="3.5"/>
<circle cx="433.9" cy="424.8" r="3.5"/>
<circle cx="433.9" cy="436.4" r="3.5"/>
<circle cx="433.9" cy="459.4" r="3.5"/>
<circle cx="433.9" cy="494.0" r="3.5"/>
<circle cx="433.9" cy="478.9" r="3.4"/>
<circle cx="433.9" cy="418.2" r="3.4"/>
<circle cx="433.9" cy="480.0" r="3.4"/>
<circle cx="433.9" cy="464.7" r="3.4"/>
<circle cx="433.9" cy="456.0" r="3.4"/>
<circle cx="433.9" cy="450.9" r="3.3"/>
<circle cx="433.9" cy="475.3" r="3.3"/>
<circle cx="433.9" cy="455.3" r="3.3"/>
<circle cx="433.9" cy="461.8" r="3.3"/>
<circle cx="433.9" cy="411.5" r="3.3"/>
<circle cx="433.9" cy="470.6" r="3.3"/>
<circle cx="433.9" cy="480.9" r="3.3"/>
<circle cx="433.9" cy="389.3" r="3.2"/>
<circle cx="433.9" cy="469.7" r="3.2"/>
<circle cx="433.9" cy="476.9" r="3.2"/>
<circle cx="433.9" cy="422.9" r="3.2"/>
<circle cx="433.9" cy="426.7" r="3.2"/>
<circle cx="433.9" cy="476.2" r="3.2"/>
<circle cx="433.9" cy="415.6" r="3.1"/>
<circle cx="433.9" cy="482.6" r="3.1"/>
<circle cx="433.9" cy="447.3" r="3.1"/>
<circle cx="433.9" cy="458.2" r="3.1"/>
<circle cx="433.9" cy="428.6" r="3.1"/>
<circle cx="433.9" cy="417.1" r="3.1"/>
<circle cx="433.9" cy="417.4" r="3.1"/>
<circle cx="433.9" cy="464.1" r="3.1"/>
<circle cx="433.9" cy="451.7" r="3.1"/>
<circle cx="433.9" cy="450.6" r="3.1"/>
<circle cx="433.9" cy="479.8" r="3.1"/>
<circle cx="433.9" cy="481.9" r="3.1"/>
<circle cx="433.9" cy="447.5" r="3.1"/>
<circle cx="433.9" cy="480.8" r="3.0"/>
<circle cx="433.9" cy="474.7" r="3.0"/>
<circle cx="433.9" cy="436.1" r="3.0"/>
<circle cx="433.9" cy="455.8" r="3.0"/>
<circle cx="433.9" cy="439.2" r="3.0"/>
<circle cx="433.9" cy="424.4" r="3.0"/>
<circle cx="433.9" cy="425.6" r="3.0"/>
<circle cx="433.9" cy="439.4" r="3.0"/>
<circle cx="433.9" cy="470.6" r="3.0"/>
<circle cx="433.9" cy="488.1" r="3.0"/>
<circle cx="433.9" cy="487.9" r="3.0"/>
<circle cx="433.9" cy="452.7" r="3.0"/>
<circle cx="433.9" cy="442.3" r="2.9"/>
<circle cx="433.9" cy="478.9" r="2.9"/>
<circle cx="433.9" cy="458.8" r="2.9"/>
<circle cx="433.9" cy="418.2" r="2.9"/>
<circle cx="433.9" cy="427.1" r="2.9"/>
<circle cx="433.9" cy="411.1" r="2.9"/>
<circle cx="433.9" cy="460.8" r="2.9"/>
<circle cx="433.9" cy="466.9" r="2.9"/>
<circle cx="433.9" cy="413.7" r="2.9"/>
<circle cx="433.9" cy="456.7" r="2.9"/>
<circle cx="433.9" cy="437.6" r="2.9"/>
<circle cx="433.9" cy="455.5" r="2.9"/>
<circle cx="433.9" cy="416.8" r="2.8"/>
<circle cx="433.9" cy="463.5" r="2.8"/>
<circle cx="433.9" cy="465.0" r="2.8"/>
<circle cx="433.9" cy="469.7" r="2.8"/>
<circle cx="433.9" cy="403.3" r="2.8"/>
<circle cx="433.9" cy="466.7" r="2.7"/>
<circle cx="433.9" cy="420.4" r="2.7"/>
<circle cx="433.9" cy="482.7" r="2.7"/>
<circle cx="433.9" cy="457.4" r="2.7"/>
<circle cx="433.9" cy="430.0" r="2.7"/>
<circle cx="433.9" cy="459.2" r="2.6"/>
<circle cx="433.9" cy="482.8" r="2.6"/>
<circle cx="433.9" cy="460.9" r="2.6"/>
<circle cx="433.9" cy="481.0" r="2.5"/>
<circle cx="433.9" cy="415.5" r="2.5"/>
<circle cx="433.9" cy="476.6" r="2.5"/>
<circle cx="433.9" cy="463.3" r="2.5"/>
<circle cx="433.9" cy="415.0" r="2.5"/>
<circle cx="433.9" cy="482.0" r="2.5"/>
<circle cx="433.9" cy="464.8" r="2.4"/>
<circle cx="433.9" cy="472.1" r="2.4"/>
<circle cx="433.9" cy="436.7" r="2.4"/>
<circle cx="433.9" cy="475.6" r="2.4"/>
<circle cx="433.9" cy="468.9" r="2.4"/>
<circle cx="433.9" cy="414.3" r="2.4"/>
<circle cx="433.9" cy="456.8" r="2.4"/>
<circle cx="433.9" cy="475.4" r="2.4"/>
<circle cx="433.9" cy="456.3" r="2.4"/>
<circle cx="433.9" cy="96.8" r="2.4"/>
<circle cx="433.9" cy="372.0" r="2.4"/>
<circle cx="433.9" cy="376.7" r="2.4"/>
<circle cx="433.9" cy="407.9" r="2.4"/>
<circle cx="433.9" cy="435.1" r="2.3"/>
<circle cx="433.9" cy="480.7" r="2.3"/>
<circle cx="433.9" cy="434.8" r="2.3"/>
<circle cx="433.9" cy="476.7" r="2.3"/>
<circle cx="433.9" cy="415.6" r="2.3"/>
<circle cx="433.9" cy="471.9" r="2.3"/>
<circle cx="433.9" cy="431.9" r="2.3"/>
<circle cx="433.9" cy="473.6" r="2.3"/>
<circle cx="433.9" cy="457.3" r="2.3"/>
<circle cx="433.9" cy="446.3" r="2.3"/>
<circle cx="433.9" cy="414.7" r="2.2"/>
<circle cx="433.9" cy="419.2" r="2.2"/>
<circle cx="433.9" cy="481.0" r="2.2"/>
<circle cx="433.9" cy="439.8" r="2.2"/>
<circle cx="433.9" cy="423.4" r="2.2"/>
<circle cx="433.9" cy="424.6" r="2.2"/>
<circle cx="433.9" cy="419.2" r="2.2"/>
<circle cx="433.9" cy="418.8" r="2.1"/>
<circle cx="433.9" cy="474.6" r="2.1"/>
<circle cx="433.9" cy="442.0" r="2.1"/>
<circle cx="433.9" cy="416.4" r="2.1"/>
<circle cx="433.9" cy="418.6" r="2.1"/>
<circle cx="433.9" cy="477.4" r="2.1"/>
<circle cx="433.9" cy="441.1" r="2.1"/>
<circle cx="433.9" cy="419.7" r="2.1"/>
<circle cx="433.9" cy="466.3" r="2.1"/>
<circle cx="433.9" cy="437.2" r="2.0"/>
<circle cx="433.9" cy="413.4" r="2.0"/>
<circle cx="433.9" cy="455.8" r="2.0"/>
<circle cx="433.9" cy="424.8" r="2.0"/>
<circle cx="433.9" cy="458.3" r="2.0"/>
<circle cx="433.9" cy="452.0" r="2.0"/>
<circle cx="433.9" cy="411.1" r="1.9"/>
<circle cx="433.9" cy="479.7" r="1.9"/>
<circle cx="433.9" cy="450.4" r="1.9"/>
<circle cx="433.9" cy="473.9" r="1.9"/>
<circle cx="433.9" cy="417.1" r="1.9"/>
<circle cx="433.9" cy="467.5" r="1.9"/>
<circle cx="433.9" cy="414.3" r="1.9"/>
<circle cx="433.9" cy="425.6" r="1.8"/>
<circle cx="433.9" cy="416.6" r="1.8"/>
<circle cx="433.9" cy="440.8" r="1.8"/>
<circle cx="433.9" cy="430.4" r="1.8"/>
<circle cx="433.9" cy="471.3" r="1.8"/>
<circle cx="433.9" cy="415.4" r="1.8"/>
<circle cx="433.9" cy="414.0" r="1.3"/>
<circle cx="433.9" cy="414.8" r="1.3"/>
<circle cx="433.9" cy="415.6" r="1.3"/>
<circle cx="433.9" cy="416.4" r="1.3"/>
<circle cx="433.9" cy="417.2" r="1.3"/>
<circle cx="433.9" cy="418.0" r="1.3"/>
<circle cx="433.9" cy="418.8" r="1.3"/>
<circle cx="433.9" cy="419.6" r="1.3"/>
<circle cx="433.9" cy="420.4" r="1.3"/>
<circle cx="433.9" cy="421.2" r="1.3"/>
<circle cx="433.9" cy="422.0" r="1.3"/>
<circle cx="433.9" cy="422.8" r="1.3"/>
<circle cx="433.9" cy="423.6" r="1.3"/>
<circle cx="433.9" cy="424.4" r="1.3"/>
<circle cx="433.9" cy="425.2" r="1.3"/>
<circle cx="433.9" cy="426.0" r="1.3"/>
<circle cx="433.9" cy="426.8" r="1.3"/>
<circle cx="433.9" cy="427.6" r="1.3"/>
<circle cx="433.9" cy="428.4" r="1.3"/>
<circle cx="433.9" cy="429.2" r="1.3"/>
<circle cx="433.9" cy="430.0" r="1.3"/>
<circle cx="433.9" cy="430.8" r="1.3"/>
<circle cx="433.9" cy="431.6" r="1.3"/>
<circle cx="433.9" cy="432.4" r="1.3"/>
<circle cx="433.9" cy="433.2" r="1.3"/>
<circle cx="433.9" cy="434.0" r="1.3"/>
<circle cx="433.9" cy="434.8" r="1.3"/>
<circle cx="433.9" cy="435.6" r="1.3"/>
<circle cx="433.9" cy="436.4" r="1.3"/>
<circle cx="433.9" cy="437.2" r="1.3"/>
<circle cx="433.9" cy="438.0" r="1.3"/>
<circle cx="433.9" cy="438.8" r="1.3"/>
<circle cx="433.9" cy="439.6" r="1.3"/>
<circle cx="433.9" cy="440.4" r="1.3"/>
<circle cx="433.9" cy="441.2" r="1.3"/>
<circle cx="433.9" cy="442.0" r="1.3"/>
<circle cx="433.9" cy="442.8" r="1.3"/>
<circle cx="433.9" cy="443.6" r="1.3"/>
<circle cx="433.9" cy="444.4" r="1.3"/>
<circle cx="433.9" cy="445.2" r="1.3"/>
<circle cx="433.9" cy="446.0" r="1.3"/>
<circle cx="433.9" cy="446.8" r="1.3"/>
<circle cx="433.9" cy="447.6" r="1.3"/>
<circle cx="433.9" cy="448.4" r="1.3"/>
<circle cx="433.9" cy="449.2" r="1.3"/>
<circle cx="433.9" cy="450.0" r="1.3"/>
<circle cx="433.9" cy="450.8" r="1.3"/>
<circle cx="433.9" cy="451.6" r="1.3"/>
<circle cx="433.9" cy="452.4" r="1.3"/>
<circle cx="433.9" cy="453.2" r="1.3"/>
<circle cx="433.9" cy="454.0" r="1.3"/>
<circle cx="433.9" cy="454.8" r="1.3"/>
<circle cx="433.9" cy="455.6" r="1.3"/>
<circle cx="433.9" cy="456.4" r="1.3"/>
<circle cx="433.9" cy="457.2" r="1.3"/>
<circle cx="433.9" cy="458.0" r="1.3"/>
<circle cx="433.9" cy="458.8" r="1.3"/>
<circle cx="433.9" cy="459.6" r="1.3"/>
<circle cx="433.9" cy="460.4" r="1.3"/>
<circle cx="433.9" cy="461.2" r="1.3"/>
<circle cx="433.9" cy="462.0" r="1.3"/>
<circle cx="433.9" cy="462.8" r="1.3"/>
<circle cx="433.9" cy="463.6" r="1.3"/>
<circle cx="433.9" cy="464.4" r="1.3"/>
<circle cx="433.9" cy="465.2" r="1.3"/>
<circle cx="433.9" cy="466.0" r="1.3"/>
<circle cx="433.9" cy="466.8" r="1.3"/>
<circle cx="433.9" cy="467.6" r="1.3"/>
<circle cx="433.9" cy="468.4" r="1.3"/>
<circle cx="433.9" cy="469.2" r="1.3"/>
<circle cx="433.9" cy="470.0" r="1.3"/>
<circle cx="433.9" cy="470.8" r="1.3"/>
<circle cx="433.9" cy="471.6" r="1.3"/>
<circle cx="433.9" cy="472.4" r="1.3"/>
<circle cx="433.9" cy="473.2" r="1.3"/>
<circle cx="433.9" cy="474.0" r="1.3"/>
<circle cx="433.9" cy="474.8" r="1.3"/>
<circle cx="433.9" cy="475.6" r="1.3"/>
<circle cx="433.9" cy="476.4" r="1.3"/>
<circle cx="433.9" cy="477.2" r="1.3"/>
<circle cx="433.9" cy="478.0" r="1.3"/>
<circle cx="433.9" cy="478.8" r="1.3"/>
<circle cx="433.9" cy="479.6" r="1.3"/>
<circle cx="433.9" cy="480.4" r="1.3"/>
<circle cx="433.9" cy="481.2" r="1.3"/>
<circle cx="433.9" cy="425.1" r="1.3"/>
<circle cx="433.9" cy="414.7" r="1.3"/>
<circle cx="433.9" cy="446.8" r="1.3"/>
<circle cx="433.9" cy="411.5" r="1.3"/>
<circle cx="433.9" cy="413.7" r="1.3"/>
<circle cx="433.9" cy="439.5" r="1.3"/>
<circle cx="433.9" cy="430.4" r="1.2"/>
<circle cx="433.9" cy="413.7" r="1.2"/>
<circle cx="433.9" cy="422.9" r="1.2"/>
<circle cx="433.9" cy="255.0" r="0.8"/>
<circle cx="433.9" cy="259.3" r="0.8"/>
</g>
<g fill="#ed1c24" fill-opacity="0.55" stroke="#fff" stroke-width="1">
<circle cx="481.3" cy="392.0" r="16.4"/>
<circle cx="481.3" cy="397.0" r="16.4"/>
<circle cx="481.3" cy="403.0" r="16.4"/>
<circle cx="481.3" cy="410.0" r="16.4"/>
<circle cx="481.3" cy="417.0" r="16.4"/>
<circle cx="481.3" cy="424.0" r="16.4"/>
<circle cx="481.3" cy="431.0" r="16.4"/>
<circle cx="481.3" cy="438.0" r="16.4"/>
<circle cx="481.3" cy="445.0" r="16.4"/>
<circle cx="481.3" cy="452.0" r="16.4"/>
<circle cx="481.3" cy="458.0" r="16.4"/>
<circle cx="481.3" cy="464.0" r="16.4"/>
<circle cx="481.3" cy="469.0" r="16.4"/>
<circle cx="481.3" cy="473.0" r="16.4"/>
<circle cx="481.3" cy="476.0" r="16.4"/>
<circle cx="481.3" cy="479.0" r="16.4"/>
<circle cx="481.3" cy="481.0" r="16.4"/>
<circle cx="481.3" cy="468.3" r="14.4"/>
<circle cx="481.3" cy="410.2" r="14.4"/>
<circle cx="481.3" cy="398.2" r="13.9"/>
<circle cx="481.3" cy="450.3" r="13.9"/>
<circle cx="481.3" cy="461.8" r="13.9"/>
<circle cx="481.3" cy="402.5" r="13.9"/>
<circle cx="481.3" cy="397.3" r="12.4"/>
<circle cx="481.3" cy="307.9" r="11.8"/>
<circle cx="481.3" cy="319.0" r="11.8"/>
<circle cx="481.3" cy="307.9" r="11.4"/>
<circle cx="481.3" cy="319.0" r="11.4"/>
<circle cx="481.3" cy="403.0" r="10.4"/>
<circle cx="481.3" cy="420.2" r="9.4"/>
<circle cx="481.3" cy="459.2" r="8.4"/>
<circle cx="481.3" cy="410.4" r="8.4"/>
<circle cx="481.3" cy="461.0" r="7.5"/>
<circle cx="481.3" cy="442.4" r="6.5"/>
<circle cx="481.3" cy="311.8" r="6.4"/>
<circle cx="481.3" cy="311.8" r="6.2"/>
<circle cx="481.3" cy="409.9" r="5.5"/>
<circle cx="481.3" cy="325.7" r="4.3"/>
<circle cx="481.3" cy="446.9" r="3.5"/>
<circle cx="481.3" cy="397.6" r="3.5"/>
<circle cx="481.3" cy="401.6" r="3.5"/>
<circle cx="481.3" cy="454.4" r="3.5"/>
</g>
<g fill="#6d6e71" fill-opacity="0.55" stroke="#fff" stroke-width="1">
<circle cx="528.8" cy="452.8" r="16.4"/>
<circle cx="528.8" cy="506.8" r="16.4"/>
<circle cx="528.8" cy="380.8" r="13.2"/>
<circle cx="528.8" cy="361.0" r="11.5"/>
<circle cx="528.8" cy="413.8" r="10.1"/>
<circle cx="528.8" cy="444.2" r="8.9"/>
<circle cx="528.8" cy="392.4" r="8.2"/>
<circle cx="528.8" cy="361.0" r="6.7"/>
<circle cx="528.8" cy="444.2" r="6.7"/>
<circle cx="528.8" cy="361.0" r="6.5"/>
<circle cx="528.8" cy="459.0" r="5.9"/>
<circle cx="528.8" cy="105.6" r="5.5"/>
<circle cx="528.8" cy="395.5" r="5.0"/>
<circle cx="528.8" cy="497.7" r="5.0"/>
<circle cx="528.8" cy="442.0" r="5.0"/>
<circle cx="528.8" cy="497.7" r="4.9"/>
<circle cx="528.8" cy="418.7" r="4.8"/>
<circle cx="528.8" cy="292.4" r="4.7"/>
<circle cx="528.8" cy="418.7" r="4.6"/>
<circle cx="528.8" cy="433.7" r="4.3"/>
<circle cx="528.8" cy="433.7" r="4.2"/>
<circle cx="528.8" cy="390.1" r="3.9"/>
<circle cx="528.8" cy="297.8" r="3.6"/>
<circle cx="528.8" cy="405.3" r="3.2"/>
<circle cx="528.8" cy="378.0" r="2.8"/>
<circle cx="528.8" cy="411.8" r="2.8"/>
<circle cx="528.8" cy="340.8" r="1.9"/>
<circle cx="528.8" cy="393.5" r="1.9"/>
<circle cx="528.8" cy="459.0" r="1.9"/>
<circle cx="528.8" cy="252.0" r="1.2"/>
<circle cx="528.8" cy="227.6" r="0.8"/>
</g>
<g fill="#6d6e71" fill-opacity="0.55" stroke="#fff" stroke-width="1">
<circle cx="576.2" cy="392.4" r="16.4"/>
<circle cx="576.2" cy="438.0" r="16.4"/>
<circle cx="576.2" cy="356.6" r="12.0"/>
<circle cx="576.2" cy="428.8" r="11.5"/>
<circle cx="576.2" cy="428.8" r="11.2"/>
<circle cx="576.2" cy="353.5" r="10.4"/>
<circle cx="576.2" cy="428.8" r="10.4"/>
<circle cx="576.2" cy="444.2" r="9.8"/>
<circle cx="576.2" cy="444.2" r="9.5"/>
<circle cx="576.2" cy="312.1" r="8.9"/>
<circle cx="576.2" cy="399.4" r="8.9"/>
<circle cx="576.2" cy="407.0" r="8.9"/>
<circle cx="576.2" cy="399.4" r="8.7"/>
<circle cx="576.2" cy="328.3" r="7.5"/>
<circle cx="576.2" cy="347.3" r="7.5"/>
<circle cx="576.2" cy="359.0" r="7.5"/>
<circle cx="576.2" cy="84.2" r="6.4"/>
<circle cx="576.2" cy="503.7" r="5.9"/>
<circle cx="576.2" cy="387.0" r="5.5"/>
<circle cx="576.2" cy="387.0" r="5.3"/>
<circle cx="576.2" cy="344.2" r="5.0"/>
<circle cx="576.2" cy="359.0" r="5.0"/>
<circle cx="576.2" cy="413.3" r="5.0"/>
<circle cx="576.2" cy="436.5" r="3.9"/>
<circle cx="576.2" cy="355.8" r="3.6"/>
<circle cx="576.2" cy="342.7" r="2.8"/>
<circle cx="576.2" cy="445.5" r="2.8"/>
<circle cx="576.2" cy="435.0" r="2.4"/>
<circle cx="576.2" cy="415.6" r="1.9"/>
<circle cx="576.2" cy="425.7" r="1.9"/>
<circle cx="576.2" cy="429.1" r="1.9"/>
<circle cx="576.2" cy="475.2" r="1.8"/>
<circle cx="576.2" cy="401.7" r="1.2"/>
<circle cx="576.2" cy="467.1" r="1.2"/>
</g>
<g fill="#2181b4" fill-opacity="0.55" stroke="#fff" stroke-width="1">
<circle cx="623.6" cy="412.1" r="16.4"/>
<circle cx="623.6" cy="452.0" r="10.8"/>
<circle cx="623.6" cy="330.6" r="6.7"/>
<circle cx="623.6" cy="470.2" r="6.7"/>
<circle cx="623.6" cy="360.5" r="5.9"/>
<circle cx="623.6" cy="385.9" r="5.9"/>
<circle cx="623.6" cy="385.9" r="5.0"/>
<circle cx="623.6" cy="385.9" r="4.9"/>
<circle cx="623.6" cy="248.3" r="4.5"/>
<circle cx="623.6" cy="320.7" r="4.5"/>
<circle cx="623.6" cy="412.5" r="4.3"/>
<circle cx="623.6" cy="248.3" r="4.3"/>
<circle cx="623.6" cy="412.5" r="4.2"/>
<circle cx="623.6" cy="223.0" r="3.6"/>
<circle cx="623.6" cy="309.8" r="3.0"/>
<circle cx="623.6" cy="260.4" r="2.1"/>
<circle cx="623.6" cy="217.0" r="1.3"/>
<circle cx="623.6" cy="91.4" r="0.8"/>
</g>
<g fill="#2181b4" fill-opacity="0.55" stroke="#fff" stroke-width="1">
<circle cx="671.0" cy="396.3" r="16.4"/>
<circle cx="671.0" cy="448.3" r="16.4"/>
<circle cx="671.0" cy="447.3" r="14.4"/>
<circle cx="671.0" cy="447.3" r="12.8"/>
<circle cx="671.0" cy="365.9" r="10.4"/>
<circle cx="671.0" cy="435.0" r="10.0"/>
<circle cx="671.0" cy="424.9" r="9.8"/>
<circle cx="671.0" cy="450.4" r="9.8"/>
<circle cx="671.0" cy="501.1" r="9.8"/>
<circle cx="671.0" cy="450.4" r="9.5"/>
<circle cx="671.0" cy="486.4" r="8.4"/>
<circle cx="671.0" cy="380.5" r="8.2"/>
<circle cx="671.0" cy="403.3" r="8.2"/>
<circle cx="671.0" cy="403.3" r="7.9"/>
<circle cx="671.0" cy="394.7" r="7.5"/>
<circle cx="671.0" cy="424.9" r="7.5"/>
<circle cx="671.0" cy="296.3" r="7.0"/>
<circle cx="671.0" cy="498.0" r="7.0"/>
<circle cx="671.0" cy="498.0" r="6.8"/>
<circle cx="671.0" cy="335.7" r="6.7"/>
<circle cx="671.0" cy="414.9" r="6.7"/>
<circle cx="671.0" cy="435.0" r="6.4"/>
<circle cx="671.0" cy="435.0" r="6.2"/>
<circle cx="671.0" cy="450.4" r="5.9"/>
<circle cx="671.0" cy="276.8" r="5.8"/>
<circle cx="671.0" cy="424.9" r="5.0"/>
<circle cx="671.0" cy="189.5" r="4.8"/>
<circle cx="671.0" cy="292.9" r="4.8"/>
<circle cx="671.0" cy="292.9" r="4.6"/>
<circle cx="671.0" cy="484.9" r="4.3"/>
<circle cx="671.0" cy="86.7" r="3.9"/>
<circle cx="671.0" cy="325.7" r="3.9"/>
<circle cx="671.0" cy="249.6" r="3.6"/>
<circle cx="671.0" cy="318.0" r="3.6"/>
<circle cx="671.0" cy="498.0" r="3.2"/>
<circle cx="671.0" cy="157.6" r="3.0"/>
<circle cx="671.0" cy="269.7" r="2.7"/>
<circle cx="671.0" cy="345.0" r="1.9"/>
<circle cx="671.0" cy="389.8" r="1.9"/>
<circle cx="671.0" cy="145.2" r="0.8"/>
<circle cx="671.0" cy="274.5" r="0.8"/>
<circle cx="671.0" cy="348.9" r="0.8"/>
</g>
<g fill="#f6a93a" fill-opacity="0.55" stroke="#fff" stroke-width="1">
<circle cx="718.4" cy="457.0" r="16.4"/>
<circle cx="718.4" cy="436.7" r="16.4"/>
<circle cx="718.4" cy="502.4" r="15.9"/>
<circle cx="718.4" cy="412.0" r="15.4"/>
<circle cx="718.4" cy="447.1" r="15.4"/>
<circle cx="718.4" cy="436.0" r="15.4"/>
<circle cx="718.4" cy="457.9" r="15.4"/>
<circle cx="718.4" cy="437.1" r="15.4"/>
<circle cx="718.4" cy="444.0" r="15.4"/>
<circle cx="718.4" cy="390.3" r="14.6"/>
<circle cx="718.4" cy="455.0" r="14.4"/>
<circle cx="718.4" cy="441.1" r="14.4"/>
<circle cx="718.4" cy="440.5" r="14.4"/>
<circle cx="718.4" cy="443.3" r="14.4"/>
<circle cx="718.4" cy="434.8" r="14.4"/>
<circle cx="718.4" cy="443.0" r="14.4"/>
<circle cx="718.4" cy="445.2" r="13.4"/>
<circle cx="718.4" cy="439.9" r="13.4"/>
<circle cx="718.4" cy="457.5" r="13.4"/>
<circle cx="718.4" cy="443.8" r="12.4"/>
<circle cx="718.4" cy="463.3" r="12.0"/>
<circle cx="718.4" cy="432.9" r="10.4"/>
<circle cx="718.4" cy="454.2" r="10.4"/>
<circle cx="718.4" cy="434.5" r="10.4"/>
<circle cx="718.4" cy="438.3" r="10.4"/>
<circle cx="718.4" cy="463.3" r="9.4"/>
<circle cx="718.4" cy="429.2" r="9.4"/>
<circle cx="718.4" cy="416.7" r="9.4"/>
<circle cx="718.4" cy="423.6" r="9.4"/>
<circle cx="718.4" cy="405.9" r="9.4"/>
<circle cx="718.4" cy="398.8" r="9.4"/>
<circle cx="718.4" cy="422.5" r="9.4"/>
<circle cx="718.4" cy="408.9" r="9.4"/>
<circle cx="718.4" cy="413.3" r="9.4"/>
<circle cx="718.4" cy="455.0" r="9.4"/>
<circle cx="718.4" cy="409.5" r="8.4"/>
<circle cx="718.4" cy="420.6" r="8.4"/>
<circle cx="718.4" cy="411.9" r="8.4"/>
<circle cx="718.4" cy="429.5" r="8.4"/>
<circle cx="718.4" cy="429.1" r="8.4"/>
<circle cx="718.4" cy="440.5" r="8.4"/>
<circle cx="718.4" cy="450.0" r="8.4"/>
<circle cx="718.4" cy="402.6" r="8.2"/>
<circle cx="718.4" cy="365.5" r="7.9"/>
<circle cx="718.4" cy="395.8" r="7.5"/>
<circle cx="718.4" cy="402.4" r="7.5"/>
<circle cx="718.4" cy="429.8" r="7.5"/>
<circle cx="718.4" cy="453.5" r="7.5"/>
<circle cx="718.4" cy="443.2" r="7.5"/>
<circle cx="718.4" cy="448.7" r="7.5"/>
<circle cx="718.4" cy="463.0" r="7.0"/>
<circle cx="718.4" cy="373.3" r="6.7"/>
<circle cx="718.4" cy="408.0" r="6.5"/>
<circle cx="718.4" cy="413.5" r="6.5"/>
<circle cx="718.4" cy="403.3" r="6.5"/>
<circle cx="718.4" cy="429.5" r="6.5"/>
<circle cx="718.4" cy="431.3" r="6.5"/>
<circle cx="718.4" cy="440.7" r="6.5"/>
<circle cx="718.4" cy="447.3" r="6.5"/>
<circle cx="718.4" cy="449.4" r="6.5"/>
<circle cx="718.4" cy="454.2" r="6.5"/>
<circle cx="718.4" cy="450.5" r="6.5"/>
<circle cx="718.4" cy="357.0" r="5.9"/>
<circle cx="718.4" cy="381.0" r="5.9"/>
<circle cx="718.4" cy="392.8" r="5.5"/>
<circle cx="718.4" cy="411.0" r="5.5"/>
<circle cx="718.4" cy="415.0" r="5.5"/>
<circle cx="718.4" cy="412.9" r="5.5"/>
<circle cx="718.4" cy="406.9" r="5.5"/>
<circle cx="718.4" cy="419.6" r="5.5"/>
<circle cx="718.4" cy="439.8" r="5.5"/>
<circle cx="718.4" cy="457.3" r="5.5"/>
<circle cx="718.4" cy="438.7" r="5.5"/>
<circle cx="718.4" cy="438.7" r="5.5"/>
<circle cx="718.4" cy="442.5" r="5.5"/>
<circle cx="718.4" cy="438.8" r="5.5"/>
<circle cx="718.4" cy="400.0" r="4.5"/>
<circle cx="718.4" cy="412.0" r="4.5"/>
<circle cx="718.4" cy="464.0" r="4.5"/>
<circle cx="718.4" cy="420.6" r="4.5"/>
<circle cx="718.4" cy="430.7" r="4.5"/>
<circle cx="718.4" cy="423.5" r="4.5"/>
<circle cx="718.4" cy="405.9" r="4.5"/>
<circle cx="718.4" cy="418.5" r="4.5"/>
<circle cx="718.4" cy="457.6" r="4.5"/>
<circle cx="718.4" cy="454.9" r="4.5"/>
<circle cx="718.4" cy="479.5" r="4.3"/>
<circle cx="718.4" cy="450.0" r="4.1"/>
<circle cx="718.4" cy="450.9" r="4.0"/>
<circle cx="718.4" cy="438.4" r="4.0"/>
<circle cx="718.4" cy="444.4" r="4.0"/>
<circle cx="718.4" cy="372.0" r="4.0"/>
<circle cx="718.4" cy="430.4" r="3.9"/>
<circle cx="718.4" cy="449.2" r="3.8"/>
<circle cx="718.4" cy="446.5" r="3.8"/>
<circle cx="718.4" cy="433.0" r="3.8"/>
<circle cx="718.4" cy="430.5" r="3.8"/>
<circle cx="718.4" cy="449.3" r="3.7"/>
<circle cx="718.4" cy="453.8" r="3.7"/>
<circle cx="718.4" cy="408.2" r="3.6"/>
<circle cx="718.4" cy="420.0" r="3.6"/>
<circle cx="718.4" cy="395.3" r="3.6"/>
<circle cx="718.4" cy="443.0" r="3.6"/>
<circle cx="718.4" cy="448.8" r="3.6"/>
<circle cx="718.4" cy="396.8" r="3.6"/>
<circle cx="718.4" cy="447.2" r="3.5"/>
<circle cx="718.4" cy="413.1" r="3.5"/>
<circle cx="718.4" cy="448.6" r="3.5"/>
<circle cx="718.4" cy="357.0" r="3.5"/>
<circle cx="718.4" cy="363.0" r="3.5"/>
<circle cx="718.4" cy="381.0" r="3.5"/>
<circle cx="718.4" cy="406.2" r="3.5"/>
<circle cx="718.4" cy="412.0" r="3.5"/>
<circle cx="718.4" cy="438.3" r="3.5"/>
<circle cx="718.4" cy="428.3" r="3.4"/>
<circle cx="718.4" cy="435.4" r="3.4"/>
<circle cx="718.4" cy="458.5" r="3.4"/>
<circle cx="718.4" cy="429.4" r="3.4"/>
<circle cx="718.4" cy="447.5" r="3.4"/>
<circle cx="718.4" cy="428.5" r="3.4"/>
<circle cx="718.4" cy="448.1" r="3.4"/>
<circle cx="718.4" cy="446.6" r="3.3"/>
<circle cx="718.4" cy="439.5" r="3.3"/>
<circle cx="718.4" cy="393.8" r="3.3"/>
<circle cx="718.4" cy="295.4" r="3.2"/>
<circle cx="718.4" cy="303.1" r="3.2"/>
<circle cx="718.4" cy="314.6" r="3.2"/>
<circle cx="718.4" cy="457.0" r="3.2"/>
<circle cx="718.4" cy="405.0" r="3.2"/>
<circle cx="718.4" cy="451.3" r="3.2"/>
<circle cx="718.4" cy="437.4" r="3.2"/>
<circle cx="718.4" cy="410.1" r="3.2"/>
<circle cx="718.4" cy="410.4" r="3.2"/>
<circle cx="718.4" cy="314.6" r="3.2"/>
<circle cx="718.4" cy="399.3" r="3.1"/>
<circle cx="718.4" cy="430.7" r="3.1"/>
<circle cx="718.4" cy="459.8" r="3.0"/>
<circle cx="718.4" cy="440.9" r="3.0"/>
<circle cx="718.4" cy="395.6" r="3.0"/>
<circle cx="718.4" cy="455.5" r="3.0"/>
<circle cx="718.4" cy="405.7" r="3.0"/>
<circle cx="718.4" cy="311.5" r="3.0"/>
<circle cx="718.4" cy="404.0" r="3.0"/>
<circle cx="718.4" cy="466.0" r="3.0"/>
<circle cx="718.4" cy="392.2" r="3.0"/>
<circle cx="718.4" cy="412.9" r="3.0"/>
<circle cx="718.4" cy="398.8" r="3.0"/>
<circle cx="718.4" cy="434.8" r="3.0"/>
<circle cx="718.4" cy="450.3" r="2.9"/>
<circle cx="718.4" cy="456.9" r="2.9"/>
<circle cx="718.4" cy="438.3" r="2.9"/>
<circle cx="718.4" cy="445.8" r="2.9"/>
<circle cx="718.4" cy="449.7" r="2.9"/>
<circle cx="718.4" cy="434.6" r="2.9"/>
<circle cx="718.4" cy="454.5" r="2.9"/>
<circle cx="718.4" cy="451.7" r="2.8"/>
<circle cx="718.4" cy="455.1" r="2.8"/>
<circle cx="718.4" cy="407.4" r="2.8"/>
<circle cx="718.4" cy="433.9" r="2.8"/>
<circle cx="718.4" cy="407.2" r="2.8"/>
<circle cx="718.4" cy="459.9" r="2.8"/>
<circle cx="718.4" cy="431.8" r="2.8"/>
<circle cx="718.4" cy="471.8" r="2.8"/>
<circle cx="718.4" cy="453.4" r="2.7"/>
<circle cx="718.4" cy="437.7" r="2.7"/>
<circle cx="718.4" cy="394.3" r="2.7"/>
<circle cx="718.4" cy="437.7" r="2.7"/>
<circle cx="718.4" cy="403.3" r="2.6"/>
<circle cx="718.4" cy="434.4" r="2.6"/>
<circle cx="718.4" cy="445.0" r="2.6"/>
<circle cx="718.4" cy="439.8" r="2.6"/>
<circle cx="718.4" cy="433.1" r="2.5"/>
<circle cx="718.4" cy="456.6" r="2.5"/>
<circle cx="718.4" cy="412.7" r="2.5"/>
<circle cx="718.4" cy="448.4" r="2.5"/>
<circle cx="718.4" cy="385.0" r="2.5"/>
<circle cx="718.4" cy="479.5" r="2.5"/>
<circle cx="718.4" cy="428.4" r="2.5"/>
<circle cx="718.4" cy="430.3" r="2.5"/>
<circle cx="718.4" cy="411.6" r="2.5"/>
<circle cx="718.4" cy="402.5" r="2.5"/>
<circle cx="718.4" cy="403.0" r="2.4"/>
<circle cx="718.4" cy="402.8" r="2.4"/>
<circle cx="718.4" cy="410.8" r="2.4"/>
<circle cx="718.4" cy="448.4" r="2.4"/>
<circle cx="718.4" cy="485.4" r="2.4"/>
<circle cx="718.4" cy="436.0" r="2.3"/>
<circle cx="718.4" cy="443.8" r="2.3"/>
<circle cx="718.4" cy="453.1" r="2.3"/>
<circle cx="718.4" cy="453.5" r="2.2"/>
<circle cx="718.4" cy="397.5" r="2.2"/>
<circle cx="718.4" cy="435.9" r="2.1"/>
<circle cx="718.4" cy="442.8" r="2.1"/>
<circle cx="718.4" cy="405.1" r="2.1"/>
<circle cx="718.4" cy="454.1" r="2.1"/>
<circle cx="718.4" cy="417.7" r="2.1"/>
<circle cx="718.4" cy="456.7" r="2.1"/>
<circle cx="718.4" cy="449.5" r="2.0"/>
<circle cx="718.4" cy="446.6" r="2.0"/>
<circle cx="718.4" cy="459.7" r="2.0"/>
<circle cx="718.4" cy="407.8" r="2.0"/>
<circle cx="718.4" cy="457.1" r="2.0"/>
<circle cx="718.4" cy="410.7" r="2.0"/>
<circle cx="718.4" cy="407.1" r="2.0"/>
<circle cx="718.4" cy="447.9" r="2.0"/>
<circle cx="718.4" cy="352.5" r="1.9"/>
<circle cx="718.4" cy="422.7" r="1.9"/>
<circle cx="718.4" cy="434.7" r="1.9"/>
<circle cx="718.4" cy="440.2" r="1.9"/>
<circle cx="718.4" cy="459.3" r="1.9"/>
<circle cx="718.4" cy="457.7" r="1.9"/>
<circle cx="718.4" cy="401.6" r="1.9"/>
<circle cx="718.4" cy="392.8" r="1.8"/>
<circle cx="718.4" cy="443.4" r="1.8"/>
<circle cx="718.4" cy="502.4" r="1.3"/>
<circle cx="718.4" cy="428.0" r="1.3"/>
<circle cx="718.4" cy="428.8" r="1.3"/>
<circle cx="718.4" cy="429.6" r="1.3"/>
<circle cx="718.4" cy="430.4" r="1.3"/>
<circle cx="718.4" cy="431.2" r="1.3"/>
<circle cx="718.4" cy="432.0" r="1.3"/>
<circle cx="718.4" cy="432.8" r="1.3"/>
<circle cx="718.4" cy="433.6" r="1.3"/>
<circle cx="718.4" cy="434.4" r="1.3"/>
<circle cx="718.4" cy="435.2" r="1.3"/>
<circle cx="718.4" cy="436.0" r="1.3"/>
<circle cx="718.4" cy="436.8" r="1.3"/>
<circle cx="718.4" cy="437.6" r="1.3"/>
<circle cx="718.4" cy="438.4" r="1.3"/>
<circle cx="718.4" cy="439.2" r="1.3"/>
<circle cx="718.4" cy="440.0" r="1.3"/>
<circle cx="718.4" cy="440.8" r="1.3"/>
<circle cx="718.4" cy="441.6" r="1.3"/>
<circle cx="718.4" cy="442.4" r="1.3"/>
<circle cx="718.4" cy="443.2" r="1.3"/>
<circle cx="718.4" cy="444.0" r="1.3"/>
<circle cx="718.4" cy="444.8" r="1.3"/>
<circle cx="718.4" cy="445.6" r="1.3"/>
<circle cx="718.4" cy="446.4" r="1.3"/>
<circle cx="718.4" cy="447.2" r="1.3"/>
<circle cx="718.4" cy="448.0" r="1.3"/>
<circle cx="718.4" cy="448.8" r="1.3"/>
<circle cx="718.4" cy="449.6" r="1.3"/>
<circle cx="718.4" cy="450.4" r="1.3"/>
<circle cx="718.4" cy="451.2" r="1.3"/>
<circle cx="718.4" cy="452.0" r="1.3"/>
<circle cx="718.4" cy="452.8" r="1.3"/>
<circle cx="718.4" cy="453.6" r="1.3"/>
<circle cx="718.4" cy="454.4" r="1.3"/>
<circle cx="718.4" cy="455.2" r="1.3"/>
<circle cx="718.4" cy="456.0" r="1.3"/>
<circle cx="718.4" cy="456.8" r="1.3"/>
<circle cx="718.4" cy="457.6" r="1.3"/>
<circle cx="718.4" cy="458.4" r="1.3"/>
<circle cx="718.4" cy="459.2" r="1.3"/>
<circle cx="718.4" cy="460.0" r="1.3"/>
<circle cx="718.4" cy="460.8" r="1.3"/>
<circle cx="718.4" cy="461.6" r="1.3"/>
</g>
<g fill="#f6a93a" fill-opacity="0.55" stroke="#fff" stroke-width="1">
<circle cx="765.9" cy="463.3" r="16.4"/>
<circle cx="765.9" cy="476.4" r="16.4"/>
<circle cx="765.9" cy="491.0" r="16.4"/>
<circle cx="765.9" cy="458.5" r="16.4"/>
<circle cx="765.9" cy="455.4" r="16.4"/>
<circle cx="765.9" cy="439.2" r="16.4"/>
<circle cx="765.9" cy="460.1" r="16.4"/>
<circle cx="765.9" cy="435.1" r="16.4"/>
<circle cx="765.9" cy="446.5" r="16.4"/>
<circle cx="765.9" cy="422.8" r="15.4"/>
<circle cx="765.9" cy="441.2" r="13.4"/>
<circle cx="765.9" cy="504.2" r="13.1"/>
<circle cx="765.9" cy="495.0" r="12.8"/>
<circle cx="765.9" cy="442.9" r="10.4"/>
<circle cx="765.9" cy="455.7" r="10.4"/>
<circle cx="765.9" cy="450.1" r="10.4"/>
<circle cx="765.9" cy="237.8" r="9.4"/>
<circle cx="765.9" cy="392.9" r="9.4"/>
<circle cx="765.9" cy="461.5" r="9.4"/>
<circle cx="765.9" cy="411.0" r="8.9"/>
<circle cx="765.9" cy="428.2" r="8.4"/>
<circle cx="765.9" cy="467.0" r="8.4"/>
<circle cx="765.9" cy="447.9" r="8.4"/>
<circle cx="765.9" cy="455.6" r="8.4"/>
<circle cx="765.9" cy="485.7" r="8.2"/>
<circle cx="765.9" cy="453.5" r="7.5"/>
<circle cx="765.9" cy="449.9" r="7.5"/>
<circle cx="765.9" cy="453.0" r="7.5"/>
<circle cx="765.9" cy="405.0" r="6.7"/>
<circle cx="765.9" cy="428.2" r="6.7"/>
<circle cx="765.9" cy="428.2" r="6.5"/>
<circle cx="765.9" cy="438.1" r="6.5"/>
<circle cx="765.9" cy="440.0" r="6.5"/>
<circle cx="765.9" cy="451.7" r="6.5"/>
<circle cx="765.9" cy="436.8" r="6.5"/>
<circle cx="765.9" cy="450.6" r="6.5"/>
<circle cx="765.9" cy="411.0" r="6.0"/>
<circle cx="765.9" cy="485.7" r="5.5"/>
<circle cx="765.9" cy="470.0" r="5.5"/>
<circle cx="765.9" cy="442.7" r="5.5"/>
<circle cx="765.9" cy="353.3" r="5.0"/>
<circle cx="765.9" cy="396.5" r="4.8"/>
<circle cx="765.9" cy="435.0" r="4.5"/>
<circle cx="765.9" cy="457.0" r="4.5"/>
<circle cx="765.9" cy="330.0" r="4.2"/>
<circle cx="765.9" cy="405.0" r="4.0"/>
<circle cx="765.9" cy="375.9" r="3.9"/>
<circle cx="765.9" cy="375.9" r="3.7"/>
<circle cx="765.9" cy="439.3" r="3.7"/>
<circle cx="765.9" cy="432.5" r="3.7"/>
<circle cx="765.9" cy="387.2" r="3.6"/>
<circle cx="765.9" cy="435.1" r="3.5"/>
<circle cx="765.9" cy="387.2" r="3.5"/>
<circle cx="765.9" cy="452.6" r="3.5"/>
<circle cx="765.9" cy="434.4" r="3.5"/>
<circle cx="765.9" cy="381.5" r="3.2"/>
<circle cx="765.9" cy="396.5" r="3.0"/>
<circle cx="765.9" cy="411.0" r="2.5"/>
<circle cx="765.9" cy="352.5" r="2.4"/>
<circle cx="765.9" cy="485.7" r="2.4"/>
<circle cx="765.9" cy="438.4" r="2.2"/>
<circle cx="765.9" cy="458.1" r="2.1"/>
<circle cx="765.9" cy="452.5" r="2.1"/>
<circle cx="765.9" cy="461.0" r="2.0"/>
<circle cx="765.9" cy="432.5" r="1.8"/>
</g>
<g fill="#822f64" fill-opacity="0.55" stroke="#fff" stroke-width="1">
<circle cx="813.3" cy="506.3" r="16.4"/>
<circle cx="813.3" cy="379.0" r="5.8"/>
<circle cx="813.3" cy="448.7" r="5.5"/>
</g>
<g fill="#822f64" fill-opacity="0.55" stroke="#fff" stroke-width="1">
<circle cx="860.7" cy="425.8" r="10.9"/>
<circle cx="860.7" cy="418.1" r="7.9"/>
<circle cx="860.7" cy="418.1" r="7.6"/>
<circle cx="860.7" cy="450.5" r="7.5"/>
<circle cx="860.7" cy="394.6" r="7.0"/>
<circle cx="860.7" cy="431.6" r="3.9"/>
<circle cx="860.7" cy="431.6" r="3.7"/>
<circle cx="860.7" cy="354.3" r="3.1"/>
</g>
<g fill="#2aa5de" fill-opacity="0.55" stroke="#fff" stroke-width="1">
<circle cx="908.1" cy="462.0" r="13.9"/>
<circle cx="908.1" cy="465.0" r="13.9"/>
<circle cx="908.1" cy="451.9" r="10.9"/>
<circle cx="908.1" cy="345.7" r="9.4"/>
<circle cx="908.1" cy="230.2" r="8.4"/>
<circle cx="908.1" cy="317.4" r="7.8"/>
<circle cx="908.1" cy="297.3" r="7.0"/>
<circle cx="908.1" cy="275.8" r="5.8"/>
<circle cx="908.1" cy="153.2" r="5.0"/>
<circle cx="908.1" cy="174.2" r="4.5"/>
<circle cx="908.1" cy="302.9" r="3.9"/>
<circle cx="908.1" cy="302.9" r="3.7"/>
<circle cx="908.1" cy="290.3" r="3.5"/>
<circle cx="908.1" cy="211.7" r="3.0"/>
<circle cx="908.1" cy="320.0" r="2.4"/>
<circle cx="908.1" cy="447.3" r="2.4"/>
<circle cx="908.1" cy="297.0" r="1.9"/>
<circle cx="908.1" cy="200.5" r="1.8"/>
<circle cx="908.1" cy="268.0" r="1.8"/>
<circle cx="908.1" cy="115.7" r="1.2"/>
<circle cx="908.1" cy="193.7" r="1.2"/>
<circle cx="908.1" cy="350.5" r="1.2"/>
<circle cx="908.1" cy="382.2" r="1.2"/>
</g>
<g fill="#2aa5de" fill-opacity="0.55" stroke="#fff" stroke-width="1">
<circle cx="955.5" cy="462.4" r="16.4"/>
<circle cx="955.5" cy="359.7" r="14.8"/>
<circle cx="955.5" cy="240.2" r="12.8"/>
<circle cx="955.5" cy="241.5" r="10.9"/>
<circle cx="955.5" cy="411.7" r="10.8"/>
<circle cx="955.5" cy="243.3" r="9.8"/>
<circle cx="955.5" cy="399.6" r="7.8"/>
<circle cx="955.5" cy="109.2" r="6.0"/>
<circle cx="955.5" cy="384.7" r="5.9"/>
<circle cx="955.5" cy="469.4" r="5.9"/>
<circle cx="955.5" cy="469.4" r="5.7"/>
<circle cx="955.5" cy="252.5" r="5.0"/>
<circle cx="955.5" cy="230.2" r="4.5"/>
<circle cx="955.5" cy="262.8" r="4.5"/>
<circle cx="955.5" cy="322.0" r="4.3"/>
<circle cx="955.5" cy="319.9" r="3.6"/>
<circle cx="955.5" cy="319.9" r="3.5"/>
<circle cx="955.5" cy="159.7" r="3.0"/>
<circle cx="955.5" cy="272.7" r="3.0"/>
<circle cx="955.5" cy="359.7" r="2.4"/>
<circle cx="955.5" cy="140.2" r="1.8"/>
<circle cx="955.5" cy="197.7" r="1.2"/>
<circle cx="955.5" cy="303.0" r="0.8"/>
</g>
<g fill="#14a595" fill-opacity="0.55" stroke="#fff" stroke-width="1">
<circle cx="1003.0" cy="285.4" r="4.7"/>
<circle cx="1003.0" cy="283.4" r="3.6"/>
<circle cx="1003.0" cy="283.4" r="3.5"/>
<circle cx="1003.0" cy="253.5" r="3.0"/>
<circle cx="1003.0" cy="238.0" r="2.7"/>
<circle cx="1003.0" cy="375.3" r="0.8"/>
</g>
<g fill="#14a595" fill-opacity="0.55" stroke="#fff" stroke-width="1">
<circle cx="1050.4" cy="266.5" r="3.9"/>
</g>
<g fill="#f47835" fill-opacity="0.55" stroke="#fff" stroke-width="1">
<circle cx="1097.8" cy="493.8" r="16.4"/>
<circle cx="1097.8" cy="483.7" r="15.4"/>
<circle cx="1097.8" cy="484.8" r="15.2"/>
<circle cx="1097.8" cy="483.1" r="14.9"/>
<circle cx="1097.8" cy="479.8" r="14.6"/>
<circle cx="1097.8" cy="473.5" r="14.4"/>
<circle cx="1097.8" cy="473.8" r="14.3"/>
<circle cx="1097.8" cy="483.3" r="14.1"/>
<circle cx="1097.8" cy="485.4" r="14.0"/>
<circle cx="1097.8" cy="478.3" r="13.9"/>
<circle cx="1097.8" cy="474.8" r="13.9"/>
<circle cx="1097.8" cy="475.8" r="13.8"/>
<circle cx="1097.8" cy="470.3" r="13.7"/>
<circle cx="1097.8" cy="478.7" r="13.5"/>
<circle cx="1097.8" cy="465.3" r="13.0"/>
<circle cx="1097.8" cy="483.9" r="12.9"/>
<circle cx="1097.8" cy="465.1" r="11.9"/>
<circle cx="1097.8" cy="462.2" r="10.7"/>
<circle cx="1097.8" cy="260.9" r="10.6"/>
<circle cx="1097.8" cy="475.9" r="10.6"/>
<circle cx="1097.8" cy="478.0" r="10.6"/>
<circle cx="1097.8" cy="459.4" r="10.6"/>
<circle cx="1097.8" cy="486.9" r="10.5"/>
<circle cx="1097.8" cy="463.1" r="10.5"/>
<circle cx="1097.8" cy="467.9" r="10.3"/>
<circle cx="1097.8" cy="470.4" r="10.0"/>
<circle cx="1097.8" cy="484.2" r="9.5"/>
<circle cx="1097.8" cy="457.4" r="9.4"/>
<circle cx="1097.8" cy="468.3" r="9.3"/>
<circle cx="1097.8" cy="408.4" r="9.1"/>
<circle cx="1097.8" cy="431.4" r="9.1"/>
<circle cx="1097.8" cy="436.7" r="9.1"/>
<circle cx="1097.8" cy="436.5" r="9.1"/>
<circle cx="1097.8" cy="415.7" r="9.1"/>
<circle cx="1097.8" cy="425.9" r="9.0"/>
<circle cx="1097.8" cy="417.7" r="9.0"/>
<circle cx="1097.8" cy="419.1" r="8.9"/>
<circle cx="1097.8" cy="460.8" r="8.9"/>
<circle cx="1097.8" cy="423.3" r="8.9"/>
<circle cx="1097.8" cy="407.9" r="8.9"/>
<circle cx="1097.8" cy="428.9" r="8.9"/>
<circle cx="1097.8" cy="434.1" r="8.8"/>
<circle cx="1097.8" cy="405.4" r="8.8"/>
<circle cx="1097.8" cy="421.4" r="8.8"/>
<circle cx="1097.8" cy="406.9" r="8.8"/>
<circle cx="1097.8" cy="406.9" r="8.8"/>
<circle cx="1097.8" cy="405.9" r="8.8"/>
<circle cx="1097.8" cy="436.9" r="8.8"/>
<circle cx="1097.8" cy="406.2" r="8.7"/>
<circle cx="1097.8" cy="458.8" r="8.7"/>
<circle cx="1097.8" cy="425.6" r="8.7"/>
<circle cx="1097.8" cy="411.7" r="8.7"/>
<circle cx="1097.8" cy="441.3" r="8.6"/>
<circle cx="1097.8" cy="404.0" r="8.6"/>
<circle cx="1097.8" cy="431.6" r="8.6"/>
<circle cx="1097.8" cy="454.5" r="8.6"/>
<circle cx="1097.8" cy="428.8" r="8.6"/>
<circle cx="1097.8" cy="448.5" r="8.5"/>
<circle cx="1097.8" cy="419.8" r="8.4"/>
<circle cx="1097.8" cy="414.2" r="8.4"/>
<circle cx="1097.8" cy="401.5" r="8.3"/>
<circle cx="1097.8" cy="416.6" r="8.3"/>
<circle cx="1097.8" cy="397.9" r="8.3"/>
<circle cx="1097.8" cy="458.1" r="8.3"/>
<circle cx="1097.8" cy="446.0" r="8.3"/>
<circle cx="1097.8" cy="461.7" r="8.2"/>
<circle cx="1097.8" cy="411.2" r="8.2"/>
<circle cx="1097.8" cy="427.6" r="8.2"/>
<circle cx="1097.8" cy="401.8" r="8.2"/>
<circle cx="1097.8" cy="404.4" r="8.2"/>
<circle cx="1097.8" cy="246.7" r="8.2"/>
<circle cx="1097.8" cy="448.6" r="8.1"/>
<circle cx="1097.8" cy="469.1" r="8.0"/>
<circle cx="1097.8" cy="418.1" r="8.0"/>
<circle cx="1097.8" cy="413.5" r="8.0"/>
<circle cx="1097.8" cy="418.8" r="8.0"/>
<circle cx="1097.8" cy="414.8" r="7.9"/>
<circle cx="1097.8" cy="425.5" r="7.9"/>
<circle cx="1097.8" cy="414.7" r="7.9"/>
<circle cx="1097.8" cy="394.9" r="7.9"/>
<circle cx="1097.8" cy="443.5" r="7.9"/>
<circle cx="1097.8" cy="409.5" r="7.9"/>
<circle cx="1097.8" cy="445.5" r="7.9"/>
<circle cx="1097.8" cy="391.5" r="7.9"/>
<circle cx="1097.8" cy="456.4" r="7.8"/>
<circle cx="1097.8" cy="450.7" r="7.8"/>
<circle cx="1097.8" cy="440.8" r="7.8"/>
<circle cx="1097.8" cy="377.3" r="7.8"/>
<circle cx="1097.8" cy="397.7" r="7.8"/>
<circle cx="1097.8" cy="430.9" r="7.8"/>
<circle cx="1097.8" cy="441.9" r="7.7"/>
<circle cx="1097.8" cy="437.3" r="7.7"/>
<circle cx="1097.8" cy="428.0" r="7.6"/>
<circle cx="1097.8" cy="404.9" r="7.6"/>
<circle cx="1097.8" cy="398.1" r="7.6"/>
<circle cx="1097.8" cy="418.0" r="7.6"/>
<circle cx="1097.8" cy="427.5" r="7.5"/>
<circle cx="1097.8" cy="423.9" r="7.5"/>
<circle cx="1097.8" cy="378.5" r="7.5"/>
<circle cx="1097.8" cy="397.2" r="7.5"/>
<circle cx="1097.8" cy="374.4" r="7.5"/>
<circle cx="1097.8" cy="396.7" r="7.4"/>
<circle cx="1097.8" cy="378.6" r="7.4"/>
<circle cx="1097.8" cy="432.0" r="7.4"/>
<circle cx="1097.8" cy="407.7" r="7.3"/>
<circle cx="1097.8" cy="434.7" r="7.3"/>
<circle cx="1097.8" cy="454.7" r="7.3"/>
<circle cx="1097.8" cy="273.9" r="7.2"/>
<circle cx="1097.8" cy="443.8" r="7.2"/>
<circle cx="1097.8" cy="376.5" r="7.2"/>
<circle cx="1097.8" cy="440.9" r="7.2"/>
<circle cx="1097.8" cy="456.8" r="7.1"/>
<circle cx="1097.8" cy="398.3" r="7.1"/>
<circle cx="1097.8" cy="458.1" r="7.1"/>
<circle cx="1097.8" cy="394.3" r="7.1"/>
<circle cx="1097.8" cy="426.4" r="7.1"/>
<circle cx="1097.8" cy="401.6" r="7.1"/>
<circle cx="1097.8" cy="433.4" r="7.0"/>
<circle cx="1097.8" cy="418.0" r="7.0"/>
<circle cx="1097.8" cy="463.2" r="7.0"/>
<circle cx="1097.8" cy="375.9" r="7.0"/>
<circle cx="1097.8" cy="456.2" r="7.0"/>
<circle cx="1097.8" cy="410.5" r="7.0"/>
<circle cx="1097.8" cy="406.5" r="7.0"/>
<circle cx="1097.8" cy="497.2" r="7.0"/>
<circle cx="1097.8" cy="392.6" r="6.9"/>
<circle cx="1097.8" cy="407.7" r="6.9"/>
<circle cx="1097.8" cy="438.9" r="6.9"/>
<circle cx="1097.8" cy="387.7" r="6.8"/>
<circle cx="1097.8" cy="430.1" r="6.8"/>
<circle cx="1097.8" cy="425.0" r="6.8"/>
<circle cx="1097.8" cy="414.5" r="6.7"/>
<circle cx="1097.8" cy="419.9" r="6.7"/>
<circle cx="1097.8" cy="386.4" r="6.7"/>
<circle cx="1097.8" cy="385.4" r="6.7"/>
<circle cx="1097.8" cy="434.3" r="6.7"/>
<circle cx="1097.8" cy="297.9" r="6.7"/>
<circle cx="1097.8" cy="464.6" r="6.6"/>
<circle cx="1097.8" cy="417.9" r="6.6"/>
<circle cx="1097.8" cy="458.8" r="6.6"/>
<circle cx="1097.8" cy="389.0" r="6.5"/>
<circle cx="1097.8" cy="400.2" r="6.5"/>
<circle cx="1097.8" cy="442.0" r="6.5"/>
<circle cx="1097.8" cy="471.8" r="6.5"/>
<circle cx="1097.8" cy="433.0" r="6.5"/>
<circle cx="1097.8" cy="424.2" r="6.4"/>
<circle cx="1097.8" cy="375.6" r="6.3"/>
<circle cx="1097.8" cy="383.2" r="6.3"/>
<circle cx="1097.8" cy="449.0" r="6.2"/>
<circle cx="1097.8" cy="432.0" r="6.2"/>
<circle cx="1097.8" cy="403.4" r="6.2"/>
<circle cx="1097.8" cy="439.3" r="6.1"/>
<circle cx="1097.8" cy="402.0" r="6.1"/>
<circle cx="1097.8" cy="420.2" r="6.1"/>
<circle cx="1097.8" cy="383.1" r="6.1"/>
<circle cx="1097.8" cy="454.0" r="6.0"/>
<circle cx="1097.8" cy="432.8" r="6.0"/>
<circle cx="1097.8" cy="435.8" r="5.9"/>
<circle cx="1097.8" cy="457.3" r="5.9"/>
<circle cx="1097.8" cy="412.8" r="5.8"/>
<circle cx="1097.8" cy="422.2" r="5.8"/>
<circle cx="1097.8" cy="428.9" r="5.8"/>
<circle cx="1097.8" cy="457.5" r="5.8"/>
<circle cx="1097.8" cy="457.0" r="5.8"/>
<circle cx="1097.8" cy="457.8" r="5.7"/>
<circle cx="1097.8" cy="403.4" r="5.7"/>
<circle cx="1097.8" cy="429.8" r="5.7"/>
<circle cx="1097.8" cy="370.4" r="5.7"/>
<circle cx="1097.8" cy="426.9" r="5.7"/>
<circle cx="1097.8" cy="405.1" r="5.7"/>
<circle cx="1097.8" cy="438.1" r="5.6"/>
<circle cx="1097.8" cy="450.1" r="5.6"/>
<circle cx="1097.8" cy="433.7" r="5.6"/>
<circle cx="1097.8" cy="413.5" r="5.6"/>
<circle cx="1097.8" cy="428.7" r="5.5"/>
<circle cx="1097.8" cy="424.6" r="5.5"/>
<circle cx="1097.8" cy="416.0" r="5.5"/>
<circle cx="1097.8" cy="393.2" r="5.4"/>
<circle cx="1097.8" cy="398.3" r="5.4"/>
<circle cx="1097.8" cy="408.4" r="5.3"/>
<circle cx="1097.8" cy="367.2" r="5.3"/>
<circle cx="1097.8" cy="474.9" r="5.2"/>
<circle cx="1097.8" cy="385.2" r="5.2"/>
<circle cx="1097.8" cy="390.2" r="5.2"/>
<circle cx="1097.8" cy="449.0" r="5.2"/>
<circle cx="1097.8" cy="411.1" r="5.2"/>
<circle cx="1097.8" cy="418.1" r="5.2"/>
<circle cx="1097.8" cy="393.9" r="5.1"/>
<circle cx="1097.8" cy="456.7" r="5.1"/>
<circle cx="1097.8" cy="185.0" r="5.0"/>
<circle cx="1097.8" cy="437.0" r="5.0"/>
<circle cx="1097.8" cy="441.5" r="5.0"/>
<circle cx="1097.8" cy="464.6" r="5.0"/>
<circle cx="1097.8" cy="429.0" r="5.0"/>
<circle cx="1097.8" cy="452.0" r="4.9"/>
<circle cx="1097.8" cy="422.0" r="4.9"/>
<circle cx="1097.8" cy="428.3" r="4.9"/>
<circle cx="1097.8" cy="475.5" r="4.9"/>
<circle cx="1097.8" cy="453.1" r="4.8"/>
<circle cx="1097.8" cy="414.5" r="4.7"/>
<circle cx="1097.8" cy="373.1" r="4.7"/>
<circle cx="1097.8" cy="433.6" r="4.7"/>
<circle cx="1097.8" cy="456.1" r="4.7"/>
<circle cx="1097.8" cy="415.5" r="4.7"/>
<circle cx="1097.8" cy="441.1" r="4.6"/>
<circle cx="1097.8" cy="439.5" r="4.6"/>
<circle cx="1097.8" cy="413.1" r="4.6"/>
<circle cx="1097.8" cy="445.8" r="4.5"/>
<circle cx="1097.8" cy="429.8" r="4.5"/>
<circle cx="1097.8" cy="442.1" r="4.5"/>
<circle cx="1097.8" cy="435.7" r="4.5"/>
<circle cx="1097.8" cy="404.1" r="4.5"/>
<circle cx="1097.8" cy="408.1" r="4.4"/>
<circle cx="1097.8" cy="432.8" r="4.4"/>
<circle cx="1097.8" cy="415.9" r="4.4"/>
<circle cx="1097.8" cy="408.8" r="4.3"/>
<circle cx="1097.8" cy="435.4" r="4.3"/>
<circle cx="1097.8" cy="407.9" r="4.3"/>
<circle cx="1097.8" cy="450.5" r="4.3"/>
<circle cx="1097.8" cy="439.1" r="4.3"/>
<circle cx="1097.8" cy="449.2" r="4.3"/>
<circle cx="1097.8" cy="398.7" r="4.2"/>
<circle cx="1097.8" cy="412.9" r="4.2"/>
<circle cx="1097.8" cy="432.9" r="4.2"/>
<circle cx="1097.8" cy="458.2" r="4.1"/>
<circle cx="1097.8" cy="468.3" r="4.1"/>
<circle cx="1097.8" cy="382.7" r="4.0"/>
<circle cx="1097.8" cy="451.0" r="4.0"/>
<circle cx="1097.8" cy="365.2" r="4.0"/>
<circle cx="1097.8" cy="457.0" r="4.0"/>
<circle cx="1097.8" cy="433.2" r="4.0"/>
<circle cx="1097.8" cy="364.2" r="4.0"/>
<circle cx="1097.8" cy="411.7" r="4.0"/>
<circle cx="1097.8" cy="446.8" r="4.0"/>
<circle cx="1097.8" cy="448.6" r="3.9"/>
<circle cx="1097.8" cy="404.0" r="3.8"/>
<circle cx="1097.8" cy="398.2" r="3.8"/>
<circle cx="1097.8" cy="423.2" r="3.8"/>
<circle cx="1097.8" cy="387.2" r="3.8"/>
<circle cx="1097.8" cy="391.8" r="3.8"/>
<circle cx="1097.8" cy="409.9" r="3.8"/>
<circle cx="1097.8" cy="449.4" r="3.8"/>
<circle cx="1097.8" cy="401.7" r="3.7"/>
<circle cx="1097.8" cy="429.0" r="3.7"/>
<circle cx="1097.8" cy="408.5" r="3.6"/>
<circle cx="1097.8" cy="448.0" r="3.6"/>
<circle cx="1097.8" cy="418.1" r="3.6"/>
<circle cx="1097.8" cy="420.8" r="3.5"/>
<circle cx="1097.8" cy="417.3" r="3.5"/>
<circle cx="1097.8" cy="412.7" r="3.5"/>
<circle cx="1097.8" cy="365.0" r="3.4"/>
<circle cx="1097.8" cy="363.5" r="3.4"/>
<circle cx="1097.8" cy="457.4" r="3.3"/>
<circle cx="1097.8" cy="404.8" r="3.3"/>
<circle cx="1097.8" cy="481.2" r="3.3"/>
<circle cx="1097.8" cy="454.5" r="3.3"/>
<circle cx="1097.8" cy="395.5" r="3.3"/>
<circle cx="1097.8" cy="291.7" r="3.2"/>
<circle cx="1097.8" cy="317.9" r="3.2"/>
<circle cx="1097.8" cy="344.2" r="3.2"/>
<circle cx="1097.8" cy="495.0" r="3.2"/>
<circle cx="1097.8" cy="415.0" r="3.2"/>
<circle cx="1097.8" cy="363.4" r="3.2"/>
<circle cx="1097.8" cy="495.0" r="3.2"/>
<circle cx="1097.8" cy="414.0" r="3.2"/>
<circle cx="1097.8" cy="423.5" r="3.2"/>
<circle cx="1097.8" cy="408.0" r="3.1"/>
<circle cx="1097.8" cy="442.1" r="3.1"/>
<circle cx="1097.8" cy="382.4" r="3.1"/>
<circle cx="1097.8" cy="430.6" r="3.0"/>
<circle cx="1097.8" cy="409.7" r="3.0"/>
<circle cx="1097.8" cy="411.9" r="3.0"/>
<circle cx="1097.8" cy="406.6" r="3.0"/>
<circle cx="1097.8" cy="437.6" r="3.0"/>
<circle cx="1097.8" cy="403.3" r="3.0"/>
<circle cx="1097.8" cy="265.2" r="3.0"/>
<circle cx="1097.8" cy="404.2" r="2.9"/>
<circle cx="1097.8" cy="390.7" r="2.9"/>
<circle cx="1097.8" cy="427.8" r="2.9"/>
<circle cx="1097.8" cy="363.8" r="2.9"/>
<circle cx="1097.8" cy="444.3" r="2.9"/>
<circle cx="1097.8" cy="472.5" r="2.9"/>
<circle cx="1097.8" cy="445.9" r="2.8"/>
<circle cx="1097.8" cy="443.8" r="2.8"/>
<circle cx="1097.8" cy="476.3" r="2.8"/>
<circle cx="1097.8" cy="451.4" r="2.8"/>
<circle cx="1097.8" cy="353.0" r="2.8"/>
<circle cx="1097.8" cy="416.9" r="2.7"/>
<circle cx="1097.8" cy="432.3" r="2.7"/>
<circle cx="1097.8" cy="401.5" r="2.7"/>
<circle cx="1097.8" cy="453.1" r="2.7"/>
<circle cx="1097.8" cy="423.2" r="2.7"/>
<circle cx="1097.8" cy="388.3" r="2.7"/>
<circle cx="1097.8" cy="390.3" r="2.6"/>
<circle cx="1097.8" cy="405.7" r="2.6"/>
<circle cx="1097.8" cy="426.1" r="2.6"/>
<circle cx="1097.8" cy="454.7" r="2.6"/>
<circle cx="1097.8" cy="412.0" r="2.6"/>
<circle cx="1097.8" cy="400.8" r="2.6"/>
<circle cx="1097.8" cy="430.0" r="2.6"/>
<circle cx="1097.8" cy="438.1" r="2.6"/>
<circle cx="1097.8" cy="409.3" r="2.5"/>
<circle cx="1097.8" cy="454.0" r="2.5"/>
<circle cx="1097.8" cy="429.8" r="2.5"/>
<circle cx="1097.8" cy="322.5" r="2.5"/>
<circle cx="1097.8" cy="434.1" r="2.3"/>
<circle cx="1097.8" cy="444.5" r="2.3"/>
<circle cx="1097.8" cy="430.9" r="2.2"/>
<circle cx="1097.8" cy="416.4" r="2.1"/>
<circle cx="1097.8" cy="410.5" r="2.1"/>
<circle cx="1097.8" cy="423.0" r="2.1"/>
<circle cx="1097.8" cy="413.5" r="2.1"/>
<circle cx="1097.8" cy="462.5" r="2.1"/>
<circle cx="1097.8" cy="435.7" r="2.0"/>
<circle cx="1097.8" cy="379.5" r="2.0"/>
<circle cx="1097.8" cy="449.9" r="2.0"/>
<circle cx="1097.8" cy="362.1" r="2.0"/>
<circle cx="1097.8" cy="415.8" r="2.0"/>
<circle cx="1097.8" cy="437.5" r="2.0"/>
<circle cx="1097.8" cy="359.7" r="1.9"/>
<circle cx="1097.8" cy="421.6" r="1.9"/>
<circle cx="1097.8" cy="411.7" r="1.9"/>
<circle cx="1097.8" cy="368.7" r="1.9"/>
<circle cx="1097.8" cy="410.1" r="1.9"/>
<circle cx="1097.8" cy="452.8" r="1.9"/>
<circle cx="1097.8" cy="231.2" r="1.8"/>
<circle cx="1097.8" cy="429.3" r="1.8"/>
<circle cx="1097.8" cy="431.3" r="1.8"/>
<circle cx="1097.8" cy="458.7" r="1.8"/>
<circle cx="1097.8" cy="475.2" r="1.8"/>
<circle cx="1097.8" cy="428.6" r="1.8"/>
<circle cx="1097.8" cy="392.0" r="1.3"/>
<circle cx="1097.8" cy="392.8" r="1.3"/>
<circle cx="1097.8" cy="393.6" r="1.3"/>
<circle cx="1097.8" cy="394.4" r="1.3"/>
<circle cx="1097.8" cy="395.2" r="1.3"/>
<circle cx="1097.8" cy="396.0" r="1.3"/>
<circle cx="1097.8" cy="396.8" r="1.3"/>
<circle cx="1097.8" cy="397.6" r="1.3"/>
<circle cx="1097.8" cy="398.4" r="1.3"/>
<circle cx="1097.8" cy="399.2" r="1.3"/>
<circle cx="1097.8" cy="400.0" r="1.3"/>
<circle cx="1097.8" cy="400.8" r="1.3"/>
<circle cx="1097.8" cy="401.6" r="1.3"/>
<circle cx="1097.8" cy="402.4" r="1.3"/>
<circle cx="1097.8" cy="403.2" r="1.3"/>
<circle cx="1097.8" cy="404.0" r="1.3"/>
<circle cx="1097.8" cy="404.8" r="1.3"/>
<circle cx="1097.8" cy="405.6" r="1.3"/>
<circle cx="1097.8" cy="406.4" r="1.3"/>
<circle cx="1097.8" cy="407.2" r="1.3"/>
<circle cx="1097.8" cy="408.0" r="1.3"/>
<circle cx="1097.8" cy="408.8" r="1.3"/>
<circle cx="1097.8" cy="409.6" r="1.3"/>
<circle cx="1097.8" cy="410.4" r="1.3"/>
<circle cx="1097.8" cy="411.2" r="1.3"/>
<circle cx="1097.8" cy="412.0" r="1.3"/>
<circle cx="1097.8" cy="412.8" r="1.3"/>
<circle cx="1097.8" cy="413.6" r="1.3"/>
<circle cx="1097.8" cy="414.4" r="1.3"/>
<circle cx="1097.8" cy="415.2" r="1.3"/>
<circle cx="1097.8" cy="416.0" r="1.3"/>
<circle cx="1097.8" cy="416.8" r="1.3"/>
<circle cx="1097.8" cy="417.6" r="1.3"/>
<circle cx="1097.8" cy="418.4" r="1.3"/>
<circle cx="1097.8" cy="419.2" r="1.3"/>
<circle cx="1097.8" cy="420.0" r="1.3"/>
<circle cx="1097.8" cy="420.8" r="1.3"/>
<circle cx="1097.8" cy="421.6" r="1.3"/>
<circle cx="1097.8" cy="422.4" r="1.3"/>
<circle cx="1097.8" cy="423.2" r="1.3"/>
<circle cx="1097.8" cy="424.0" r="1.3"/>
<circle cx="1097.8" cy="424.8" r="1.3"/>
<circle cx="1097.8" cy="425.6" r="1.3"/>
<circle cx="1097.8" cy="426.4" r="1.3"/>
<circle cx="1097.8" cy="427.2" r="1.3"/>
<circle cx="1097.8" cy="428.0" r="1.3"/>
<circle cx="1097.8" cy="428.8" r="1.3"/>
<circle cx="1097.8" cy="429.6" r="1.3"/>
<circle cx="1097.8" cy="430.4" r="1.3"/>
<circle cx="1097.8" cy="431.2" r="1.3"/>
<circle cx="1097.8" cy="432.0" r="1.3"/>
<circle cx="1097.8" cy="432.8" r="1.3"/>
<circle cx="1097.8" cy="433.6" r="1.3"/>
<circle cx="1097.8" cy="434.4" r="1.3"/>
<circle cx="1097.8" cy="435.2" r="1.3"/>
<circle cx="1097.8" cy="436.0" r="1.3"/>
<circle cx="1097.8" cy="436.8" r="1.3"/>
<circle cx="1097.8" cy="437.6" r="1.3"/>
<circle cx="1097.8" cy="438.4" r="1.3"/>
<circle cx="1097.8" cy="439.2" r="1.3"/>
<circle cx="1097.8" cy="440.0" r="1.3"/>
<circle cx="1097.8" cy="440.8" r="1.3"/>
<circle cx="1097.8" cy="441.6" r="1.3"/>
<circle cx="1097.8" cy="442.4" r="1.3"/>
<circle cx="1097.8" cy="443.2" r="1.3"/>
<circle cx="1097.8" cy="444.0" r="1.3"/>
<circle cx="1097.8" cy="444.8" r="1.3"/>
<circle cx="1097.8" cy="445.6" r="1.3"/>
<circle cx="1097.8" cy="446.4" r="1.3"/>
<circle cx="1097.8" cy="447.2" r="1.3"/>
<circle cx="1097.8" cy="448.0" r="1.3"/>
<circle cx="1097.8" cy="448.8" r="1.3"/>
<circle cx="1097.8" cy="449.6" r="1.3"/>
<circle cx="1097.8" cy="450.4" r="1.3"/>
<circle cx="1097.8" cy="451.2" r="1.3"/>
<circle cx="1097.8" cy="452.0" r="1.3"/>
<circle cx="1097.8" cy="452.8" r="1.3"/>
<circle cx="1097.8" cy="453.6" r="1.3"/>
<circle cx="1097.8" cy="454.4" r="1.3"/>
<circle cx="1097.8" cy="455.2" r="1.3"/>
<circle cx="1097.8" cy="456.0" r="1.3"/>
<circle cx="1097.8" cy="456.8" r="1.3"/>
<circle cx="1097.8" cy="457.6" r="1.3"/>
<circle cx="1097.8" cy="458.4" r="1.3"/>
<circle cx="1097.8" cy="459.2" r="1.3"/>
<circle cx="1097.8" cy="460.0" r="1.3"/>
<circle cx="1097.8" cy="460.8" r="1.3"/>
<circle cx="1097.8" cy="461.6" r="1.3"/>
<circle cx="1097.8" cy="462.4" r="1.3"/>
<circle cx="1097.8" cy="463.2" r="1.3"/>
<circle cx="1097.8" cy="464.0" r="1.3"/>
<circle cx="1097.8" cy="464.8" r="1.3"/>
<circle cx="1097.8" cy="465.6" r="1.3"/>
<circle cx="1097.8" cy="466.4" r="1.3"/>
<circle cx="1097.8" cy="467.2" r="1.3"/>
<circle cx="1097.8" cy="468.0" r="1.3"/>
<circle cx="1097.8" cy="468.8" r="1.3"/>
<circle cx="1097.8" cy="469.6" r="1.3"/>
<circle cx="1097.8" cy="401.9" r="1.3"/>
<circle cx="1097.8" cy="225.6" r="1.2"/>
<circle cx="1097.8" cy="279.8" r="1.2"/>
<circle cx="1097.8" cy="332.3" r="0.8"/>
</g>
<g fill="#f47835" fill-opacity="0.55" stroke="#fff" stroke-width="1">
<circle cx="1145.2" cy="278.2" r="16.4"/>
<circle cx="1145.2" cy="350.4" r="16.4"/>
<circle cx="1145.2" cy="419.6" r="16.4"/>
<circle cx="1145.2" cy="459.8" r="16.4"/>
<circle cx="1145.2" cy="449.5" r="16.4"/>
<circle cx="1145.2" cy="395.6" r="16.4"/>
<circle cx="1145.2" cy="473.2" r="16.4"/>
<circle cx="1145.2" cy="416.0" r="16.4"/>
<circle cx="1145.2" cy="470.0" r="16.4"/>
<circle cx="1145.2" cy="474.0" r="16.4"/>
<circle cx="1145.2" cy="478.0" r="16.4"/>
<circle cx="1145.2" cy="481.0" r="16.4"/>
<circle cx="1145.2" cy="484.0" r="16.4"/>
<circle cx="1145.2" cy="486.5" r="16.4"/>
<circle cx="1145.2" cy="489.0" r="16.4"/>
<circle cx="1145.2" cy="491.0" r="16.4"/>
<circle cx="1145.2" cy="492.5" r="16.4"/>
<circle cx="1145.2" cy="493.5" r="16.4"/>
<circle cx="1145.2" cy="227.2" r="16.2"/>
<circle cx="1145.2" cy="397.7" r="15.4"/>
<circle cx="1145.2" cy="422.6" r="15.4"/>
<circle cx="1145.2" cy="452.1" r="15.4"/>
<circle cx="1145.2" cy="466.2" r="15.4"/>
<circle cx="1145.2" cy="468.1" r="15.4"/>
<circle cx="1145.2" cy="408.1" r="15.4"/>
<circle cx="1145.2" cy="477.3" r="15.4"/>
<circle cx="1145.2" cy="437.4" r="14.4"/>
<circle cx="1145.2" cy="469.5" r="14.4"/>
<circle cx="1145.2" cy="430.4" r="14.4"/>
<circle cx="1145.2" cy="471.4" r="14.4"/>
<circle cx="1145.2" cy="439.3" r="14.4"/>
<circle cx="1145.2" cy="452.1" r="14.4"/>
<circle cx="1145.2" cy="386.7" r="13.4"/>
<circle cx="1145.2" cy="452.1" r="13.4"/>
<circle cx="1145.2" cy="427.8" r="13.4"/>
<circle cx="1145.2" cy="461.8" r="13.4"/>
<circle cx="1145.2" cy="459.7" r="13.4"/>
<circle cx="1145.2" cy="387.3" r="13.4"/>
<circle cx="1145.2" cy="443.7" r="13.4"/>
<circle cx="1145.2" cy="439.4" r="13.4"/>
<circle cx="1145.2" cy="470.1" r="13.4"/>
<circle cx="1145.2" cy="443.9" r="13.4"/>
<circle cx="1145.2" cy="466.2" r="13.4"/>
<circle cx="1145.2" cy="326.4" r="12.8"/>
<circle cx="1145.2" cy="459.5" r="12.4"/>
<circle cx="1145.2" cy="463.4" r="12.4"/>
<circle cx="1145.2" cy="360.4" r="11.5"/>
<circle cx="1145.2" cy="435.6" r="11.4"/>
<circle cx="1145.2" cy="450.3" r="11.4"/>
<circle cx="1145.2" cy="442.8" r="11.4"/>
<circle cx="1145.2" cy="408.7" r="11.4"/>
<circle cx="1145.2" cy="399.0" r="11.4"/>
<circle cx="1145.2" cy="391.8" r="11.4"/>
<circle cx="1145.2" cy="375.9" r="11.2"/>
<circle cx="1145.2" cy="360.4" r="11.2"/>
<circle cx="1145.2" cy="388.2" r="10.4"/>
<circle cx="1145.2" cy="458.8" r="10.4"/>
<circle cx="1145.2" cy="464.3" r="10.4"/>
<circle cx="1145.2" cy="431.8" r="10.4"/>
<circle cx="1145.2" cy="462.8" r="9.4"/>
<circle cx="1145.2" cy="435.1" r="9.4"/>
<circle cx="1145.2" cy="410.4" r="9.4"/>
<circle cx="1145.2" cy="390.9" r="9.4"/>
<circle cx="1145.2" cy="309.4" r="8.4"/>
<circle cx="1145.2" cy="334.9" r="8.4"/>
<circle cx="1145.2" cy="399.0" r="8.4"/>
<circle cx="1145.2" cy="434.1" r="8.4"/>
<circle cx="1145.2" cy="418.8" r="8.4"/>
<circle cx="1145.2" cy="448.4" r="8.4"/>
<circle cx="1145.2" cy="437.9" r="8.4"/>
<circle cx="1145.2" cy="398.4" r="8.4"/>
<circle cx="1145.2" cy="439.4" r="8.4"/>
<circle cx="1145.2" cy="375.9" r="8.2"/>
<circle cx="1145.2" cy="338.8" r="7.5"/>
<circle cx="1145.2" cy="400.6" r="7.5"/>
<circle cx="1145.2" cy="394.3" r="7.5"/>
<circle cx="1145.2" cy="392.1" r="7.5"/>
<circle cx="1145.2" cy="452.6" r="7.5"/>
<circle cx="1145.2" cy="472.2" r="7.5"/>
<circle cx="1145.2" cy="474.6" r="7.5"/>
<circle cx="1145.2" cy="416.1" r="7.5"/>
<circle cx="1145.2" cy="408.4" r="7.5"/>
<circle cx="1145.2" cy="274.2" r="7.2"/>
<circle cx="1145.2" cy="338.8" r="7.2"/>
<circle cx="1145.2" cy="274.2" r="7.0"/>
<circle cx="1145.2" cy="437.4" r="6.5"/>
<circle cx="1145.2" cy="453.6" r="6.5"/>
<circle cx="1145.2" cy="460.9" r="6.5"/>
<circle cx="1145.2" cy="404.7" r="6.5"/>
<circle cx="1145.2" cy="460.3" r="6.5"/>
<circle cx="1145.2" cy="313.3" r="5.9"/>
<circle cx="1145.2" cy="328.0" r="5.9"/>
<circle cx="1145.2" cy="346.5" r="5.9"/>
<circle cx="1145.2" cy="283.5" r="5.8"/>
<circle cx="1145.2" cy="328.0" r="5.7"/>
<circle cx="1145.2" cy="283.5" r="5.6"/>
<circle cx="1145.2" cy="427.8" r="5.5"/>
<circle cx="1145.2" cy="466.3" r="5.5"/>
<circle cx="1145.2" cy="391.9" r="5.5"/>
<circle cx="1145.2" cy="438.7" r="5.5"/>
<circle cx="1145.2" cy="417.6" r="5.5"/>
<circle cx="1145.2" cy="422.7" r="5.5"/>
<circle cx="1145.2" cy="202.7" r="4.8"/>
<circle cx="1145.2" cy="317.1" r="4.8"/>
<circle cx="1145.2" cy="450.8" r="4.5"/>
<circle cx="1145.2" cy="466.1" r="4.5"/>
<circle cx="1145.2" cy="418.2" r="4.5"/>
<circle cx="1145.2" cy="458.7" r="4.4"/>
<circle cx="1145.2" cy="399.6" r="4.4"/>
<circle cx="1145.2" cy="304.7" r="4.3"/>
<circle cx="1145.2" cy="458.1" r="4.3"/>
<circle cx="1145.2" cy="423.0" r="4.3"/>
<circle cx="1145.2" cy="478.0" r="4.3"/>
<circle cx="1145.2" cy="430.4" r="4.3"/>
<circle cx="1145.2" cy="461.6" r="4.2"/>
<circle cx="1145.2" cy="471.7" r="4.2"/>
<circle cx="1145.2" cy="401.6" r="4.2"/>
<circle cx="1145.2" cy="427.6" r="4.2"/>
<circle cx="1145.2" cy="470.8" r="4.1"/>
<circle cx="1145.2" cy="449.6" r="4.1"/>
<circle cx="1145.2" cy="447.4" r="4.1"/>
<circle cx="1145.2" cy="452.5" r="4.0"/>
<circle cx="1145.2" cy="462.9" r="4.0"/>
<circle cx="1145.2" cy="449.4" r="4.0"/>
<circle cx="1145.2" cy="385.7" r="4.0"/>
<circle cx="1145.2" cy="439.0" r="4.0"/>
<circle cx="1145.2" cy="443.8" r="3.9"/>
<circle cx="1145.2" cy="394.5" r="3.9"/>
<circle cx="1145.2" cy="467.0" r="3.9"/>
<circle cx="1145.2" cy="478.2" r="3.9"/>
<circle cx="1145.2" cy="466.3" r="3.9"/>
<circle cx="1145.2" cy="436.9" r="3.8"/>
<circle cx="1145.2" cy="442.6" r="3.7"/>
<circle cx="1145.2" cy="437.2" r="3.7"/>
<circle cx="1145.2" cy="364.3" r="3.6"/>
<circle cx="1145.2" cy="415.1" r="3.5"/>
<circle cx="1145.2" cy="446.5" r="3.5"/>
<circle cx="1145.2" cy="410.7" r="3.5"/>
<circle cx="1145.2" cy="430.3" r="3.5"/>
<circle cx="1145.2" cy="385.6" r="3.5"/>
<circle cx="1145.2" cy="447.5" r="3.5"/>
<circle cx="1145.2" cy="393.3" r="3.4"/>
<circle cx="1145.2" cy="431.2" r="3.4"/>
<circle cx="1145.2" cy="462.6" r="3.3"/>
<circle cx="1145.2" cy="409.0" r="3.3"/>
<circle cx="1145.2" cy="405.0" r="3.2"/>
<circle cx="1145.2" cy="411.9" r="3.1"/>
<circle cx="1145.2" cy="468.5" r="3.1"/>
<circle cx="1145.2" cy="407.3" r="3.0"/>
<circle cx="1145.2" cy="421.6" r="3.0"/>
<circle cx="1145.2" cy="418.2" r="3.0"/>
<circle cx="1145.2" cy="453.8" r="3.0"/>
<circle cx="1145.2" cy="452.4" r="2.9"/>
<circle cx="1145.2" cy="414.8" r="2.9"/>
<circle cx="1145.2" cy="444.7" r="2.8"/>
<circle cx="1145.2" cy="406.7" r="2.8"/>
<circle cx="1145.2" cy="471.2" r="2.8"/>
<circle cx="1145.2" cy="301.0" r="2.8"/>
<circle cx="1145.2" cy="438.1" r="2.7"/>
<circle cx="1145.2" cy="464.9" r="2.7"/>
<circle cx="1145.2" cy="435.2" r="2.7"/>
<circle cx="1145.2" cy="449.1" r="2.7"/>
<circle cx="1145.2" cy="419.4" r="2.7"/>
<circle cx="1145.2" cy="187.5" r="2.7"/>
<circle cx="1145.2" cy="418.7" r="2.6"/>
<circle cx="1145.2" cy="386.4" r="2.6"/>
<circle cx="1145.2" cy="387.6" r="2.6"/>
<circle cx="1145.2" cy="464.7" r="2.6"/>
<circle cx="1145.2" cy="425.4" r="2.5"/>
<circle cx="1145.2" cy="435.3" r="2.5"/>
<circle cx="1145.2" cy="458.9" r="2.4"/>
<circle cx="1145.2" cy="452.4" r="2.4"/>
<circle cx="1145.2" cy="394.5" r="2.4"/>
<circle cx="1145.2" cy="444.5" r="2.4"/>
<circle cx="1145.2" cy="439.6" r="2.4"/>
<circle cx="1145.2" cy="233.7" r="2.4"/>
<circle cx="1145.2" cy="258.4" r="2.4"/>
<circle cx="1145.2" cy="466.7" r="2.3"/>
<circle cx="1145.2" cy="422.0" r="2.3"/>
<circle cx="1145.2" cy="436.6" r="2.3"/>
<circle cx="1145.2" cy="461.0" r="2.2"/>
<circle cx="1145.2" cy="477.8" r="2.2"/>
<circle cx="1145.2" cy="390.4" r="2.1"/>
<circle cx="1145.2" cy="444.3" r="2.1"/>
<circle cx="1145.2" cy="338.5" r="1.9"/>
<circle cx="1145.2" cy="389.6" r="1.9"/>
<circle cx="1145.2" cy="386.9" r="1.9"/>
<circle cx="1145.2" cy="430.4" r="1.8"/>
<circle cx="1145.2" cy="467.4" r="1.8"/>
<circle cx="1145.2" cy="460.0" r="1.8"/>
<circle cx="1145.2" cy="468.0" r="1.8"/>
<circle cx="1145.2" cy="387.9" r="1.8"/>
<circle cx="1145.2" cy="399.9" r="1.8"/>
<circle cx="1145.2" cy="447.7" r="1.8"/>
<circle cx="1145.2" cy="453.3" r="1.8"/>
</g>
<g fill="#b35423" fill-opacity="0.55" stroke="#fff" stroke-width="1">
<circle cx="1192.6" cy="346.8" r="16.4"/>
<circle cx="1192.6" cy="382.9" r="15.1"/>
<circle cx="1192.6" cy="403.3" r="14.4"/>
<circle cx="1192.6" cy="424.1" r="12.0"/>
<circle cx="1192.6" cy="403.8" r="11.2"/>
<circle cx="1192.6" cy="424.7" r="10.4"/>
<circle cx="1192.6" cy="417.0" r="9.4"/>
<circle cx="1192.6" cy="434.4" r="9.4"/>
<circle cx="1192.6" cy="408.1" r="9.4"/>
<circle cx="1192.6" cy="380.5" r="8.9"/>
<circle cx="1192.6" cy="420.5" r="8.9"/>
<circle cx="1192.6" cy="428.3" r="8.9"/>
<circle cx="1192.6" cy="404.5" r="8.5"/>
<circle cx="1192.6" cy="351.7" r="8.4"/>
<circle cx="1192.6" cy="348.4" r="8.4"/>
<circle cx="1192.6" cy="388.5" r="8.4"/>
<circle cx="1192.6" cy="383.6" r="8.4"/>
<circle cx="1192.6" cy="378.4" r="8.4"/>
<circle cx="1192.6" cy="414.3" r="8.4"/>
<circle cx="1192.6" cy="447.3" r="7.9"/>
<circle cx="1192.6" cy="447.3" r="7.6"/>
<circle cx="1192.6" cy="348.8" r="7.5"/>
<circle cx="1192.6" cy="377.7" r="7.5"/>
<circle cx="1192.6" cy="343.6" r="7.5"/>
<circle cx="1192.6" cy="411.3" r="7.5"/>
<circle cx="1192.6" cy="430.4" r="7.5"/>
<circle cx="1192.6" cy="434.7" r="7.5"/>
<circle cx="1192.6" cy="332.6" r="7.0"/>
<circle cx="1192.6" cy="358.9" r="6.7"/>
<circle cx="1192.6" cy="381.0" r="6.7"/>
<circle cx="1192.6" cy="350.0" r="6.5"/>
<circle cx="1192.6" cy="345.4" r="6.5"/>
<circle cx="1192.6" cy="425.8" r="6.5"/>
<circle cx="1192.6" cy="415.2" r="6.5"/>
<circle cx="1192.6" cy="435.3" r="6.5"/>
<circle cx="1192.6" cy="458.9" r="6.4"/>
<circle cx="1192.6" cy="352.7" r="5.9"/>
<circle cx="1192.6" cy="472.0" r="5.5"/>
<circle cx="1192.6" cy="406.2" r="5.5"/>
<circle cx="1192.6" cy="340.2" r="5.5"/>
<circle cx="1192.6" cy="388.6" r="5.5"/>
<circle cx="1192.6" cy="372.2" r="5.5"/>
<circle cx="1192.6" cy="428.0" r="5.5"/>
<circle cx="1192.6" cy="408.2" r="5.5"/>
<circle cx="1192.6" cy="413.2" r="5.5"/>
<circle cx="1192.6" cy="472.0" r="5.4"/>
<circle cx="1192.6" cy="224.0" r="5.0"/>
<circle cx="1192.6" cy="244.8" r="5.0"/>
<circle cx="1192.6" cy="479.9" r="5.0"/>
<circle cx="1192.6" cy="465.5" r="4.8"/>
<circle cx="1192.6" cy="331.0" r="4.5"/>
<circle cx="1192.6" cy="347.5" r="4.5"/>
<circle cx="1192.6" cy="394.7" r="4.5"/>
<circle cx="1192.6" cy="347.3" r="4.5"/>
<circle cx="1192.6" cy="417.3" r="4.5"/>
<circle cx="1192.6" cy="418.9" r="4.5"/>
<circle cx="1192.6" cy="363.5" r="4.3"/>
<circle cx="1192.6" cy="406.2" r="4.3"/>
<circle cx="1192.6" cy="406.2" r="4.2"/>
<circle cx="1192.6" cy="162.8" r="4.2"/>
<circle cx="1192.6" cy="355.5" r="4.0"/>
<circle cx="1192.6" cy="386.8" r="4.0"/>
<circle cx="1192.6" cy="348.3" r="4.0"/>
<circle cx="1192.6" cy="345.0" r="4.0"/>
<circle cx="1192.6" cy="342.7" r="4.0"/>
<circle cx="1192.6" cy="402.6" r="4.0"/>
<circle cx="1192.6" cy="418.1" r="4.0"/>
<circle cx="1192.6" cy="487.5" r="3.9"/>
<circle cx="1192.6" cy="365.5" r="3.5"/>
<circle cx="1192.6" cy="375.3" r="3.5"/>
<circle cx="1192.6" cy="372.7" r="3.5"/>
<circle cx="1192.6" cy="434.9" r="3.5"/>
<circle cx="1192.6" cy="406.5" r="3.5"/>
<circle cx="1192.6" cy="403.6" r="3.5"/>
<circle cx="1192.6" cy="311.2" r="3.2"/>
<circle cx="1192.6" cy="191.2" r="3.0"/>
<circle cx="1192.6" cy="334.0" r="3.0"/>
<circle cx="1192.6" cy="348.9" r="3.0"/>
<circle cx="1192.6" cy="342.5" r="3.0"/>
<circle cx="1192.6" cy="433.7" r="2.8"/>
<circle cx="1192.6" cy="433.7" r="2.7"/>
<circle cx="1192.6" cy="250.0" r="2.7"/>
<circle cx="1192.6" cy="250.0" r="2.6"/>
<circle cx="1192.6" cy="342.1" r="2.5"/>
<circle cx="1192.6" cy="424.1" r="2.5"/>
<circle cx="1192.6" cy="417.4" r="2.4"/>
<circle cx="1192.6" cy="417.4" r="2.3"/>
<circle cx="1192.6" cy="421.3" r="2.1"/>
<circle cx="1192.6" cy="299.6" r="1.9"/>
<circle cx="1192.6" cy="447.0" r="1.9"/>
<circle cx="1192.6" cy="258.7" r="1.2"/>
<circle cx="1192.6" cy="274.8" r="1.2"/>
<circle cx="1192.6" cy="314.8" r="0.8"/>
</g>
<g fill="#b35423" fill-opacity="0.55" stroke="#fff" stroke-width="1">
<circle cx="1240.1" cy="429.8" r="16.6"/>
<circle cx="1240.1" cy="464.4" r="15.9"/>
<circle cx="1240.1" cy="383.2" r="13.5"/>
<circle cx="1240.1" cy="383.2" r="13.2"/>
<circle cx="1240.1" cy="190.6" r="11.9"/>
<circle cx="1240.1" cy="411.6" r="11.4"/>
<circle cx="1240.1" cy="371.3" r="11.2"/>
<circle cx="1240.1" cy="411.6" r="11.1"/>
<circle cx="1240.1" cy="328.0" r="10.6"/>
<circle cx="1240.1" cy="432.1" r="10.1"/>
<circle cx="1240.1" cy="371.6" r="8.9"/>
<circle cx="1240.1" cy="431.3" r="8.5"/>
<circle cx="1240.1" cy="431.3" r="8.3"/>
<circle cx="1240.1" cy="113.2" r="8.2"/>
<circle cx="1240.1" cy="401.3" r="8.2"/>
<circle cx="1240.1" cy="314.0" r="7.8"/>
<circle cx="1240.1" cy="371.6" r="7.0"/>
<circle cx="1240.1" cy="401.4" r="6.2"/>
<circle cx="1240.1" cy="429.4" r="5.9"/>
<circle cx="1240.1" cy="304.2" r="5.2"/>
<circle cx="1240.1" cy="401.6" r="5.0"/>
<circle cx="1240.1" cy="333.4" r="4.8"/>
<circle cx="1240.1" cy="371.6" r="4.8"/>
<circle cx="1240.1" cy="429.4" r="4.8"/>
<circle cx="1240.1" cy="371.6" r="4.6"/>
<circle cx="1240.1" cy="429.4" r="4.6"/>
<circle cx="1240.1" cy="119.7" r="3.6"/>
<circle cx="1240.1" cy="119.7" r="3.5"/>
<circle cx="1240.1" cy="362.7" r="3.4"/>
<circle cx="1240.1" cy="390.2" r="3.4"/>
<circle cx="1240.1" cy="402.3" r="3.2"/>
<circle cx="1240.1" cy="402.3" r="3.1"/>
<circle cx="1240.1" cy="314.0" r="2.8"/>
<circle cx="1240.1" cy="333.4" r="2.4"/>
<circle cx="1240.1" cy="397.5" r="2.2"/>
<circle cx="1240.1" cy="437.2" r="1.8"/>
</g>
<g stroke="#231f20" stroke-width="2.8">
<line x1="135.9" y1="419.3" x2="162.9" y2="419.3"/>
<line x1="183.3" y1="378.4" x2="210.3" y2="378.4"/>
<line x1="230.7" y1="420.3" x2="257.7" y2="420.3"/>
<line x1="278.2" y1="438.4" x2="305.2" y2="438.4"/>
<line x1="325.6" y1="342.2" x2="352.6" y2="342.2"/>
<line x1="373.0" y1="303.3" x2="400.0" y2="303.3"/>
<line x1="420.4" y1="463.3" x2="447.4" y2="463.3"/>
<line x1="467.8" y1="425.2" x2="494.8" y2="425.2"/>
<line x1="515.3" y1="437.3" x2="542.3" y2="437.3"/>
<line x1="562.7" y1="395.2" x2="589.7" y2="395.2"/>
<line x1="610.1" y1="360.3" x2="637.1" y2="360.3"/>
<line x1="657.5" y1="409.4" x2="684.5" y2="409.4"/>
<line x1="704.9" y1="430.2" x2="731.9" y2="430.2"/>
<line x1="752.4" y1="445.5" x2="779.4" y2="445.5"/>
<line x1="799.8" y1="488.4" x2="826.8" y2="488.4"/>
<line x1="847.2" y1="422.3" x2="874.2" y2="422.3"/>
<line x1="894.6" y1="354.4" x2="921.6" y2="354.4"/>
<line x1="942.0" y1="180.4" x2="969.0" y2="180.4"/>
<line x1="989.5" y1="277.3" x2="1016.5" y2="277.3"/>
<line x1="1036.9" y1="267.4" x2="1063.9" y2="267.4"/>
<line x1="1084.3" y1="437.3" x2="1111.3" y2="437.3"/>
<line x1="1131.7" y1="424.3" x2="1158.7" y2="424.3"/>
<line x1="1179.1" y1="391.3" x2="1206.1" y2="391.3"/>
<line x1="1226.6" y1="383.4" x2="1253.6" y2="383.4"/>
</g>
<g stroke="#231f20" stroke-width="2.3">
<line x1="124.2" y1="538.6" x2="1265.4" y2="538.6"/>
<line x1="125.4" y1="538" x2="125.4" y2="545"/>
<line x1="172.9" y1="538" x2="172.9" y2="545"/>
<line x1="220.3" y1="538" x2="220.3" y2="545"/>
<line x1="267.8" y1="538" x2="267.8" y2="545"/>
<line x1="315.2" y1="538" x2="315.2" y2="545"/>
<line x1="362.6" y1="538" x2="362.6" y2="545"/>
<line x1="410.1" y1="538" x2="410.1" y2="545"/>
<line x1="457.6" y1="538" x2="457.6" y2="545"/>
<line x1="505.0" y1="538" x2="505.0" y2="545"/>
<line x1="552.5" y1="538" x2="552.5" y2="545"/>
<line x1="599.9" y1="538" x2="599.9" y2="545"/>
<line x1="647.4" y1="538" x2="647.4" y2="545"/>
<line x1="694.8" y1="538" x2="694.8" y2="545"/>
<line x1="742.2" y1="538" x2="742.2" y2="545"/>
<line x1="789.7" y1="538" x2="789.7" y2="545"/>
<line x1="837.1" y1="538" x2="837.1" y2="545"/>
<line x1="884.6" y1="538" x2="884.6" y2="545"/>
<line x1="932.1" y1="538" x2="932.1" y2="545"/>
<line x1="979.5" y1="538" x2="979.5" y2="545"/>
<line x1="1027.0" y1="538" x2="1027.0" y2="545"/>
<line x1="1074.4" y1="538" x2="1074.4" y2="545"/>
<line x1="1121.9" y1="538" x2="1121.9" y2="545"/>
<line x1="1169.3" y1="538" x2="1169.3" y2="545"/>
<line x1="1216.8" y1="538" x2="1216.8" y2="545"/>
<line x1="1264.2" y1="538" x2="1264.2" y2="545"/>
</g>
<g font-family="'Liberation Sans', sans-serif" font-size="19.6" fill="#231f20" stroke="#231f20" stroke-width="0.25" text-anchor="end">
<text x="113.6" y="113.6" textLength="47.8" lengthAdjust="spacingAndGlyphs">7 000</text>
<text x="113.6" y="175.2" textLength="47.8" lengthAdjust="spacingAndGlyphs">6 000</text>
<text x="113.6" y="236.7" textLength="47.8" lengthAdjust="spacingAndGlyphs">5 000</text>
<text x="113.6" y="298.4" textLength="47.8" lengthAdjust="spacingAndGlyphs">4 000</text>
<text x="113.6" y="359.8" textLength="47.8" lengthAdjust="spacingAndGlyphs">3 000</text>
<text x="113.6" y="421.4" textLength="47.8" lengthAdjust="spacingAndGlyphs">2 000</text>
<text x="113.6" y="483.9" textLength="47.8" lengthAdjust="spacingAndGlyphs">1 000</text>
</g>
<text font-family="'Liberation Sans', sans-serif" font-size="20" fill="#5d6268" stroke="#5d6268" stroke-width="0.25" text-anchor="middle" transform="translate(40.2,322) rotate(-90)" textLength="134" lengthAdjust="spacingAndGlyphs">2022 USD/kW</text>
<g font-family="'Liberation Sans', sans-serif" font-size="19.8" fill="#231f20" stroke="#231f20" stroke-width="0.15">
<text transform="translate(156.2,640.7) rotate(-90)" textLength="87.4" lengthAdjust="spacingAndGlyphs">2010-2015</text>
<text transform="translate(203.6,640.7) rotate(-90)" textLength="87.4" lengthAdjust="spacingAndGlyphs">2016-2022</text>
<text transform="translate(251.0,640.7) rotate(-90)" textLength="87.4" lengthAdjust="spacingAndGlyphs">2010-2015</text>
<text transform="translate(298.5,640.7) rotate(-90)" textLength="87.4" lengthAdjust="spacingAndGlyphs">2016-2022</text>
<text transform="translate(345.9,640.7) rotate(-90)" textLength="87.4" lengthAdjust="spacingAndGlyphs">2010-2015</text>
<text transform="translate(393.3,640.7) rotate(-90)" textLength="87.4" lengthAdjust="spacingAndGlyphs">2016-2022</text>
<text transform="translate(440.7,640.7) rotate(-90)" textLength="87.4" lengthAdjust="spacingAndGlyphs">2010-2015</text>
<text transform="translate(488.1,640.7) rotate(-90)" textLength="87.4" lengthAdjust="spacingAndGlyphs">2016-2022</text>
<text transform="translate(535.6,640.7) rotate(-90)" textLength="87.4" lengthAdjust="spacingAndGlyphs">2010-2015</text>
<text transform="translate(583.0,640.7) rotate(-90)" textLength="87.4" lengthAdjust="spacingAndGlyphs">2016-2022</text>
<text transform="translate(630.4,640.7) rotate(-90)" textLength="87.4" lengthAdjust="spacingAndGlyphs">2010-2015</text>
<text transform="translate(677.8,640.7) rotate(-90)" textLength="87.4" lengthAdjust="spacingAndGlyphs">2016-2022</text>
<text transform="translate(725.2,640.7) rotate(-90)" textLength="87.4" lengthAdjust="spacingAndGlyphs">2010-2015</text>
<text transform="translate(772.7,640.7) rotate(-90)" textLength="87.4" lengthAdjust="spacingAndGlyphs">2016-2022</text>
<text transform="translate(820.1,640.7) rotate(-90)" textLength="87.4" lengthAdjust="spacingAndGlyphs">2010-2015</text>
<text transform="translate(867.5,640.7) rotate(-90)" textLength="87.4" lengthAdjust="spacingAndGlyphs">2016-2022</text>
<text transform="translate(914.9,640.7) rotate(-90)" textLength="87.4" lengthAdjust="spacingAndGlyphs">2010-2015</text>
<text transform="translate(962.3,640.7) rotate(-90)" textLength="87.4" lengthAdjust="spacingAndGlyphs">2016-2022</text>
<text transform="translate(1009.8,640.7) rotate(-90)" textLength="87.4" lengthAdjust="spacingAndGlyphs">2010-2015</text>
<text transform="translate(1057.2,640.7) rotate(-90)" textLength="87.4" lengthAdjust="spacingAndGlyphs">2016-2022</text>
<text transform="translate(1104.6,640.7) rotate(-90)" textLength="87.4" lengthAdjust="spacingAndGlyphs">2010-2015</text>
<text transform="translate(1152.0,640.7) rotate(-90)" textLength="87.4" lengthAdjust="spacingAndGlyphs">2016-2022</text>
<text transform="translate(1199.4,640.7) rotate(-90)" textLength="87.4" lengthAdjust="spacingAndGlyphs">2010-2015</text>
<text transform="translate(1246.9,640.7) rotate(-90)" textLength="87.4" lengthAdjust="spacingAndGlyphs">2016-2022</text>
</g>
<g font-family="'Liberation Sans', sans-serif" font-size="17.3" fill="#231f20" stroke="#231f20" stroke-width="0.25" text-anchor="middle">
<text x="169.8" y="48.9" textLength="46" lengthAdjust="spacingAndGlyphs">Africa</text>
<text x="267.3" y="48.9" textLength="42.9" lengthAdjust="spacingAndGlyphs">Brazil</text>
<text x="360.5" y="48.9" textLength="56.3" lengthAdjust="spacingAndGlyphs">Central</text>
<text x="360.5" y="69.5" textLength="99.2" lengthAdjust="spacingAndGlyphs">America and</text>
<text x="360.5" y="90.1" textLength="110.7" lengthAdjust="spacingAndGlyphs">the Caribbean</text>
<text x="456.8" y="48.9" textLength="44.3" lengthAdjust="spacingAndGlyphs">China</text>
<text x="551.7" y="48.9" textLength="56.2" lengthAdjust="spacingAndGlyphs">Eurasia</text>
<text x="646.6" y="48.9" textLength="55.8" lengthAdjust="spacingAndGlyphs">Europe</text>
<text x="743.6" y="48.9" textLength="37.9" lengthAdjust="spacingAndGlyphs">India</text>
<text x="836.4" y="48.9" textLength="52.6" lengthAdjust="spacingAndGlyphs">Middle</text>
<text x="836.4" y="69.5" textLength="33.3" lengthAdjust="spacingAndGlyphs">East</text>
<text x="931.3" y="48.9" textLength="46.2" lengthAdjust="spacingAndGlyphs">North</text>
<text x="931.3" y="69.5" textLength="65.6" lengthAdjust="spacingAndGlyphs">America</text>
<text x="1026" y="48.9" textLength="64.2" lengthAdjust="spacingAndGlyphs">Oceania</text>
<text x="1118.3" y="48.9" textLength="45.3" lengthAdjust="spacingAndGlyphs">Other</text>
<text x="1118.3" y="69.5" textLength="32.3" lengthAdjust="spacingAndGlyphs">Asia</text>
<text x="1210.4" y="48.9" textLength="97" lengthAdjust="spacingAndGlyphs">Other South</text>
<text x="1210.4" y="69.5" textLength="65.1" lengthAdjust="spacingAndGlyphs">America</text>
</g>
<g font-family="'Liberation Sans', sans-serif" font-size="18.4" fill="#231f20" stroke="#231f20" stroke-width="0.2">
<text x="346.5" y="682" textLength="121.7" lengthAdjust="spacingAndGlyphs">Capacity (MW)</text>
<text x="512.9" y="682" textLength="35.2" lengthAdjust="spacingAndGlyphs">≤ 11</text>
<text x="599.3" y="682" textLength="29.2" lengthAdjust="spacingAndGlyphs">200</text>
<text x="688.6" y="682" textLength="29.3" lengthAdjust="spacingAndGlyphs">400</text>
<text x="782" y="682" textLength="29.7" lengthAdjust="spacingAndGlyphs">600</text>
<text x="879.2" y="682" textLength="29.2" lengthAdjust="spacingAndGlyphs">800</text>
<text x="982" y="682" textLength="60.7" lengthAdjust="spacingAndGlyphs">≥ 1 000</text>
</g>
<g fill="#c8c8c8" stroke="#fff" stroke-width="0.8">
<circle cx="495.7" cy="676" r="1.8"/>
<circle cx="578.6" cy="676" r="7.1"/>
<circle cx="663.8" cy="676" r="10.1"/>
<circle cx="755.5" cy="676" r="12.4"/>
<circle cx="852.2" cy="676" r="14.5"/>
<circle cx="950" cy="676" r="16.2"/>
</g>
</svg>
</body></html>
